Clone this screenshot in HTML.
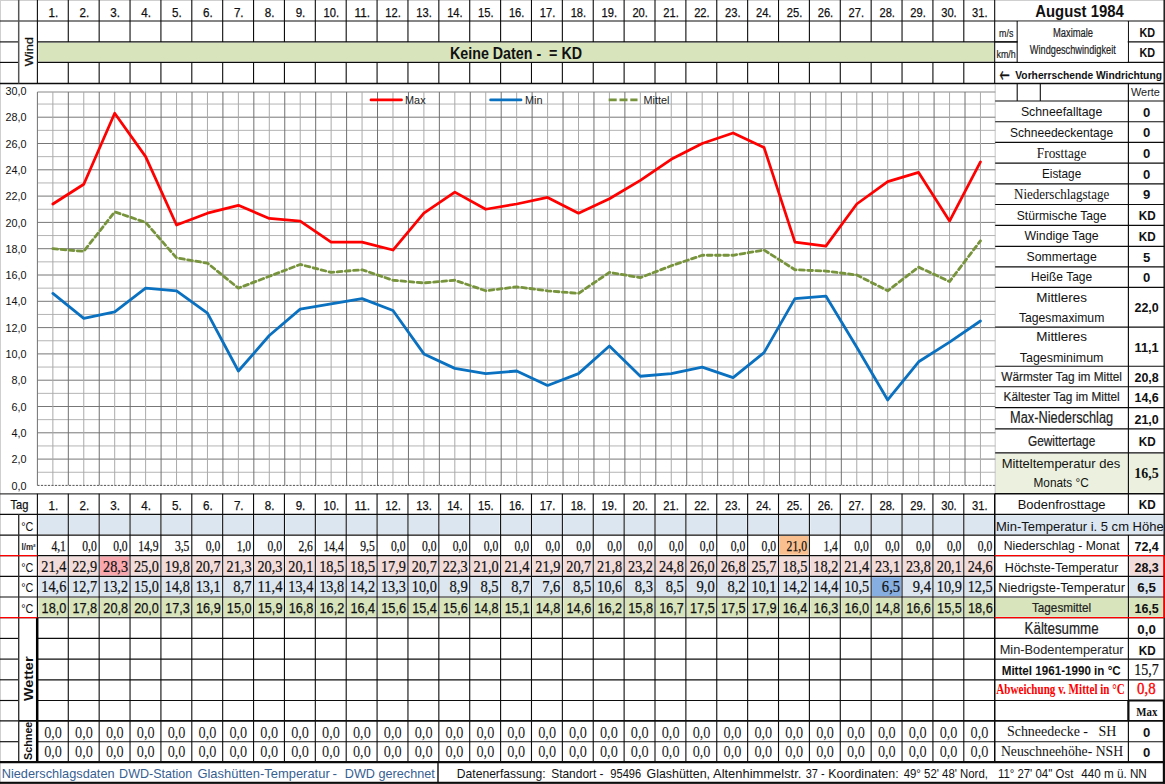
<!DOCTYPE html>
<html lang="de"><head><meta charset="utf-8"><title>August 1984 – Glashütten</title>
<style>
html,body{margin:0;padding:0;background:#fff;}
body{width:1165px;height:784px;overflow:hidden;}
svg{display:block;}
text{white-space:pre;}
</style></head><body>
<svg width="1165" height="784" viewBox="0 0 1165 784">
<rect x="0" y="0" width="1165" height="784" fill="#fff"/>
<rect x="38.20" y="42.70" width="955.88" height="18.90" fill="#d8e4bc"/>
<rect x="38.30" y="515.20" width="29.08" height="19.00" fill="#dce6f1"/>
<rect x="38.30" y="556.50" width="29.08" height="18.90" fill="#f2dcdb"/>
<rect x="38.30" y="577.20" width="29.08" height="18.90" fill="#dce6f1"/>
<rect x="38.30" y="597.90" width="29.08" height="18.90" fill="#d8e4bc"/>
<rect x="69.18" y="515.20" width="29.08" height="19.00" fill="#dce6f1"/>
<rect x="69.18" y="556.50" width="29.08" height="18.90" fill="#f2dcdb"/>
<rect x="69.18" y="577.20" width="29.08" height="18.90" fill="#dce6f1"/>
<rect x="69.18" y="597.90" width="29.08" height="18.90" fill="#d8e4bc"/>
<rect x="100.06" y="515.20" width="29.08" height="19.00" fill="#dce6f1"/>
<rect x="100.06" y="556.50" width="29.08" height="18.90" fill="#f2dcdb"/>
<rect x="100.06" y="577.20" width="29.08" height="18.90" fill="#dce6f1"/>
<rect x="100.06" y="597.90" width="29.08" height="18.90" fill="#d8e4bc"/>
<rect x="130.94" y="515.20" width="29.08" height="19.00" fill="#dce6f1"/>
<rect x="130.94" y="556.50" width="29.08" height="18.90" fill="#f2dcdb"/>
<rect x="130.94" y="577.20" width="29.08" height="18.90" fill="#dce6f1"/>
<rect x="130.94" y="597.90" width="29.08" height="18.90" fill="#d8e4bc"/>
<rect x="161.82" y="515.20" width="29.08" height="19.00" fill="#dce6f1"/>
<rect x="161.82" y="556.50" width="29.08" height="18.90" fill="#f2dcdb"/>
<rect x="161.82" y="577.20" width="29.08" height="18.90" fill="#dce6f1"/>
<rect x="161.82" y="597.90" width="29.08" height="18.90" fill="#d8e4bc"/>
<rect x="192.70" y="515.20" width="29.08" height="19.00" fill="#dce6f1"/>
<rect x="192.70" y="556.50" width="29.08" height="18.90" fill="#f2dcdb"/>
<rect x="192.70" y="577.20" width="29.08" height="18.90" fill="#dce6f1"/>
<rect x="192.70" y="597.90" width="29.08" height="18.90" fill="#d8e4bc"/>
<rect x="223.58" y="515.20" width="29.08" height="19.00" fill="#dce6f1"/>
<rect x="223.58" y="556.50" width="29.08" height="18.90" fill="#f2dcdb"/>
<rect x="223.58" y="577.20" width="29.08" height="18.90" fill="#dce6f1"/>
<rect x="223.58" y="597.90" width="29.08" height="18.90" fill="#d8e4bc"/>
<rect x="254.46" y="515.20" width="29.08" height="19.00" fill="#dce6f1"/>
<rect x="254.46" y="556.50" width="29.08" height="18.90" fill="#f2dcdb"/>
<rect x="254.46" y="577.20" width="29.08" height="18.90" fill="#dce6f1"/>
<rect x="254.46" y="597.90" width="29.08" height="18.90" fill="#d8e4bc"/>
<rect x="285.34" y="515.20" width="29.08" height="19.00" fill="#dce6f1"/>
<rect x="285.34" y="556.50" width="29.08" height="18.90" fill="#f2dcdb"/>
<rect x="285.34" y="577.20" width="29.08" height="18.90" fill="#dce6f1"/>
<rect x="285.34" y="597.90" width="29.08" height="18.90" fill="#d8e4bc"/>
<rect x="316.22" y="515.20" width="29.08" height="19.00" fill="#dce6f1"/>
<rect x="316.22" y="556.50" width="29.08" height="18.90" fill="#f2dcdb"/>
<rect x="316.22" y="577.20" width="29.08" height="18.90" fill="#dce6f1"/>
<rect x="316.22" y="597.90" width="29.08" height="18.90" fill="#d8e4bc"/>
<rect x="347.10" y="515.20" width="29.08" height="19.00" fill="#dce6f1"/>
<rect x="347.10" y="556.50" width="29.08" height="18.90" fill="#f2dcdb"/>
<rect x="347.10" y="577.20" width="29.08" height="18.90" fill="#dce6f1"/>
<rect x="347.10" y="597.90" width="29.08" height="18.90" fill="#d8e4bc"/>
<rect x="377.98" y="515.20" width="29.08" height="19.00" fill="#dce6f1"/>
<rect x="377.98" y="556.50" width="29.08" height="18.90" fill="#f2dcdb"/>
<rect x="377.98" y="577.20" width="29.08" height="18.90" fill="#dce6f1"/>
<rect x="377.98" y="597.90" width="29.08" height="18.90" fill="#d8e4bc"/>
<rect x="408.86" y="515.20" width="29.08" height="19.00" fill="#dce6f1"/>
<rect x="408.86" y="556.50" width="29.08" height="18.90" fill="#f2dcdb"/>
<rect x="408.86" y="577.20" width="29.08" height="18.90" fill="#dce6f1"/>
<rect x="408.86" y="597.90" width="29.08" height="18.90" fill="#d8e4bc"/>
<rect x="439.74" y="515.20" width="29.08" height="19.00" fill="#dce6f1"/>
<rect x="439.74" y="556.50" width="29.08" height="18.90" fill="#f2dcdb"/>
<rect x="439.74" y="577.20" width="29.08" height="18.90" fill="#dce6f1"/>
<rect x="439.74" y="597.90" width="29.08" height="18.90" fill="#d8e4bc"/>
<rect x="470.62" y="515.20" width="29.08" height="19.00" fill="#dce6f1"/>
<rect x="470.62" y="556.50" width="29.08" height="18.90" fill="#f2dcdb"/>
<rect x="470.62" y="577.20" width="29.08" height="18.90" fill="#dce6f1"/>
<rect x="470.62" y="597.90" width="29.08" height="18.90" fill="#d8e4bc"/>
<rect x="501.50" y="515.20" width="29.08" height="19.00" fill="#dce6f1"/>
<rect x="501.50" y="556.50" width="29.08" height="18.90" fill="#f2dcdb"/>
<rect x="501.50" y="577.20" width="29.08" height="18.90" fill="#dce6f1"/>
<rect x="501.50" y="597.90" width="29.08" height="18.90" fill="#d8e4bc"/>
<rect x="532.38" y="515.20" width="29.08" height="19.00" fill="#dce6f1"/>
<rect x="532.38" y="556.50" width="29.08" height="18.90" fill="#f2dcdb"/>
<rect x="532.38" y="577.20" width="29.08" height="18.90" fill="#dce6f1"/>
<rect x="532.38" y="597.90" width="29.08" height="18.90" fill="#d8e4bc"/>
<rect x="563.26" y="515.20" width="29.08" height="19.00" fill="#dce6f1"/>
<rect x="563.26" y="556.50" width="29.08" height="18.90" fill="#f2dcdb"/>
<rect x="563.26" y="577.20" width="29.08" height="18.90" fill="#dce6f1"/>
<rect x="563.26" y="597.90" width="29.08" height="18.90" fill="#d8e4bc"/>
<rect x="594.14" y="515.20" width="29.08" height="19.00" fill="#dce6f1"/>
<rect x="594.14" y="556.50" width="29.08" height="18.90" fill="#f2dcdb"/>
<rect x="594.14" y="577.20" width="29.08" height="18.90" fill="#dce6f1"/>
<rect x="594.14" y="597.90" width="29.08" height="18.90" fill="#d8e4bc"/>
<rect x="625.02" y="515.20" width="29.08" height="19.00" fill="#dce6f1"/>
<rect x="625.02" y="556.50" width="29.08" height="18.90" fill="#f2dcdb"/>
<rect x="625.02" y="577.20" width="29.08" height="18.90" fill="#dce6f1"/>
<rect x="625.02" y="597.90" width="29.08" height="18.90" fill="#d8e4bc"/>
<rect x="655.90" y="515.20" width="29.08" height="19.00" fill="#dce6f1"/>
<rect x="655.90" y="556.50" width="29.08" height="18.90" fill="#f2dcdb"/>
<rect x="655.90" y="577.20" width="29.08" height="18.90" fill="#dce6f1"/>
<rect x="655.90" y="597.90" width="29.08" height="18.90" fill="#d8e4bc"/>
<rect x="686.78" y="515.20" width="29.08" height="19.00" fill="#dce6f1"/>
<rect x="686.78" y="556.50" width="29.08" height="18.90" fill="#f2dcdb"/>
<rect x="686.78" y="577.20" width="29.08" height="18.90" fill="#dce6f1"/>
<rect x="686.78" y="597.90" width="29.08" height="18.90" fill="#d8e4bc"/>
<rect x="717.66" y="515.20" width="29.08" height="19.00" fill="#dce6f1"/>
<rect x="717.66" y="556.50" width="29.08" height="18.90" fill="#f2dcdb"/>
<rect x="717.66" y="577.20" width="29.08" height="18.90" fill="#dce6f1"/>
<rect x="717.66" y="597.90" width="29.08" height="18.90" fill="#d8e4bc"/>
<rect x="748.54" y="515.20" width="29.08" height="19.00" fill="#dce6f1"/>
<rect x="748.54" y="556.50" width="29.08" height="18.90" fill="#f2dcdb"/>
<rect x="748.54" y="577.20" width="29.08" height="18.90" fill="#dce6f1"/>
<rect x="748.54" y="597.90" width="29.08" height="18.90" fill="#d8e4bc"/>
<rect x="779.42" y="515.20" width="29.08" height="19.00" fill="#dce6f1"/>
<rect x="779.42" y="556.50" width="29.08" height="18.90" fill="#f2dcdb"/>
<rect x="779.42" y="577.20" width="29.08" height="18.90" fill="#dce6f1"/>
<rect x="779.42" y="597.90" width="29.08" height="18.90" fill="#d8e4bc"/>
<rect x="810.30" y="515.20" width="29.08" height="19.00" fill="#dce6f1"/>
<rect x="810.30" y="556.50" width="29.08" height="18.90" fill="#f2dcdb"/>
<rect x="810.30" y="577.20" width="29.08" height="18.90" fill="#dce6f1"/>
<rect x="810.30" y="597.90" width="29.08" height="18.90" fill="#d8e4bc"/>
<rect x="841.18" y="515.20" width="29.08" height="19.00" fill="#dce6f1"/>
<rect x="841.18" y="556.50" width="29.08" height="18.90" fill="#f2dcdb"/>
<rect x="841.18" y="577.20" width="29.08" height="18.90" fill="#dce6f1"/>
<rect x="841.18" y="597.90" width="29.08" height="18.90" fill="#d8e4bc"/>
<rect x="872.06" y="515.20" width="29.08" height="19.00" fill="#dce6f1"/>
<rect x="872.06" y="556.50" width="29.08" height="18.90" fill="#f2dcdb"/>
<rect x="872.06" y="577.20" width="29.08" height="18.90" fill="#dce6f1"/>
<rect x="872.06" y="597.90" width="29.08" height="18.90" fill="#d8e4bc"/>
<rect x="902.94" y="515.20" width="29.08" height="19.00" fill="#dce6f1"/>
<rect x="902.94" y="556.50" width="29.08" height="18.90" fill="#f2dcdb"/>
<rect x="902.94" y="577.20" width="29.08" height="18.90" fill="#dce6f1"/>
<rect x="902.94" y="597.90" width="29.08" height="18.90" fill="#d8e4bc"/>
<rect x="933.82" y="515.20" width="29.08" height="19.00" fill="#dce6f1"/>
<rect x="933.82" y="556.50" width="29.08" height="18.90" fill="#f2dcdb"/>
<rect x="933.82" y="577.20" width="29.08" height="18.90" fill="#dce6f1"/>
<rect x="933.82" y="597.90" width="29.08" height="18.90" fill="#d8e4bc"/>
<rect x="964.70" y="515.20" width="29.08" height="19.00" fill="#dce6f1"/>
<rect x="964.70" y="556.50" width="29.08" height="18.90" fill="#f2dcdb"/>
<rect x="964.70" y="577.20" width="29.08" height="18.90" fill="#dce6f1"/>
<rect x="964.70" y="597.90" width="29.08" height="18.90" fill="#d8e4bc"/>
<rect x="100.06" y="556.50" width="29.08" height="18.90" fill="#f9a7ae"/>
<rect x="872.06" y="577.20" width="29.08" height="18.90" fill="#86aee0"/>
<rect x="779.42" y="536.00" width="29.08" height="18.70" fill="#fabf8f"/>
<rect x="995.48" y="453.80" width="132.12" height="39.10" fill="#ebf1de"/>
<rect x="1129.20" y="453.80" width="34.20" height="39.10" fill="#ebf1de"/>
<rect x="995.48" y="515.20" width="167.92" height="19.00" fill="#dce6f1"/>
<rect x="1129.20" y="556.50" width="34.20" height="18.90" fill="#f2dcdb"/>
<rect x="1129.20" y="577.20" width="34.20" height="18.90" fill="#dce6f1"/>
<rect x="995.48" y="597.90" width="132.12" height="18.90" fill="#d8e4bc"/>
<rect x="1129.20" y="597.90" width="34.20" height="18.90" fill="#d8e4bc"/>
<line x1="0.00" y1="0.50" x2="1165.00" y2="0.50" stroke="#cfcfcf" stroke-width="1" />
<line x1="0.50" y1="0.00" x2="0.50" y2="784.00" stroke="#cfcfcf" stroke-width="1" />
<line x1="995.18" y1="84.50" x2="995.18" y2="493.00" stroke="#c4c4c4" stroke-width="1" />
<line x1="37.40" y1="472.25" x2="995.32" y2="472.25" stroke="#b4b4b4" stroke-width="1" />
<line x1="37.40" y1="459.10" x2="995.32" y2="459.10" stroke="#777" stroke-width="1" />
<line x1="37.40" y1="445.95" x2="995.32" y2="445.95" stroke="#b4b4b4" stroke-width="1" />
<line x1="37.40" y1="432.80" x2="995.32" y2="432.80" stroke="#777" stroke-width="1" />
<line x1="37.40" y1="419.65" x2="995.32" y2="419.65" stroke="#b4b4b4" stroke-width="1" />
<line x1="37.40" y1="406.50" x2="995.32" y2="406.50" stroke="#777" stroke-width="1" />
<line x1="37.40" y1="393.35" x2="995.32" y2="393.35" stroke="#b4b4b4" stroke-width="1" />
<line x1="37.40" y1="380.20" x2="995.32" y2="380.20" stroke="#777" stroke-width="1" />
<line x1="37.40" y1="367.05" x2="995.32" y2="367.05" stroke="#b4b4b4" stroke-width="1" />
<line x1="37.40" y1="353.90" x2="995.32" y2="353.90" stroke="#777" stroke-width="1" />
<line x1="37.40" y1="340.75" x2="995.32" y2="340.75" stroke="#b4b4b4" stroke-width="1" />
<line x1="37.40" y1="327.60" x2="995.32" y2="327.60" stroke="#777" stroke-width="1" />
<line x1="37.40" y1="314.45" x2="995.32" y2="314.45" stroke="#b4b4b4" stroke-width="1" />
<line x1="37.40" y1="301.30" x2="995.32" y2="301.30" stroke="#777" stroke-width="1" />
<line x1="37.40" y1="288.15" x2="995.32" y2="288.15" stroke="#b4b4b4" stroke-width="1" />
<line x1="37.40" y1="275.00" x2="995.32" y2="275.00" stroke="#777" stroke-width="1" />
<line x1="37.40" y1="261.85" x2="995.32" y2="261.85" stroke="#b4b4b4" stroke-width="1" />
<line x1="37.40" y1="248.70" x2="995.32" y2="248.70" stroke="#777" stroke-width="1" />
<line x1="37.40" y1="235.55" x2="995.32" y2="235.55" stroke="#b4b4b4" stroke-width="1" />
<line x1="37.40" y1="222.40" x2="995.32" y2="222.40" stroke="#777" stroke-width="1" />
<line x1="37.40" y1="209.25" x2="995.32" y2="209.25" stroke="#b4b4b4" stroke-width="1" />
<line x1="37.40" y1="196.10" x2="995.32" y2="196.10" stroke="#777" stroke-width="1" />
<line x1="37.40" y1="182.95" x2="995.32" y2="182.95" stroke="#b4b4b4" stroke-width="1" />
<line x1="37.40" y1="169.80" x2="995.32" y2="169.80" stroke="#777" stroke-width="1" />
<line x1="37.40" y1="156.65" x2="995.32" y2="156.65" stroke="#b4b4b4" stroke-width="1" />
<line x1="37.40" y1="143.50" x2="995.32" y2="143.50" stroke="#777" stroke-width="1" />
<line x1="37.40" y1="130.35" x2="995.32" y2="130.35" stroke="#b4b4b4" stroke-width="1" />
<line x1="37.40" y1="117.20" x2="995.32" y2="117.20" stroke="#777" stroke-width="1" />
<line x1="37.40" y1="104.05" x2="995.32" y2="104.05" stroke="#b4b4b4" stroke-width="1" />
<line x1="37.40" y1="92.00" x2="995.32" y2="92.00" stroke="#888" stroke-width="1" />
<line x1="52.86" y1="92.00" x2="52.86" y2="485.40" stroke="#aaa" stroke-width="1" />
<line x1="37.40" y1="92.00" x2="37.40" y2="485.40" stroke="#707070" stroke-width="1" />
<line x1="83.78" y1="92.00" x2="83.78" y2="485.40" stroke="#aaa" stroke-width="1" />
<line x1="68.32" y1="92.00" x2="68.32" y2="485.40" stroke="#707070" stroke-width="1" />
<line x1="114.70" y1="92.00" x2="114.70" y2="485.40" stroke="#aaa" stroke-width="1" />
<line x1="99.24" y1="92.00" x2="99.24" y2="485.40" stroke="#707070" stroke-width="1" />
<line x1="145.62" y1="92.00" x2="145.62" y2="485.40" stroke="#aaa" stroke-width="1" />
<line x1="130.16" y1="92.00" x2="130.16" y2="485.40" stroke="#707070" stroke-width="1" />
<line x1="176.54" y1="92.00" x2="176.54" y2="485.40" stroke="#aaa" stroke-width="1" />
<line x1="161.08" y1="92.00" x2="161.08" y2="485.40" stroke="#707070" stroke-width="1" />
<line x1="207.46" y1="92.00" x2="207.46" y2="485.40" stroke="#aaa" stroke-width="1" />
<line x1="192.00" y1="92.00" x2="192.00" y2="485.40" stroke="#707070" stroke-width="1" />
<line x1="238.38" y1="92.00" x2="238.38" y2="485.40" stroke="#aaa" stroke-width="1" />
<line x1="222.92" y1="92.00" x2="222.92" y2="485.40" stroke="#707070" stroke-width="1" />
<line x1="269.30" y1="92.00" x2="269.30" y2="485.40" stroke="#aaa" stroke-width="1" />
<line x1="253.84" y1="92.00" x2="253.84" y2="485.40" stroke="#707070" stroke-width="1" />
<line x1="300.22" y1="92.00" x2="300.22" y2="485.40" stroke="#aaa" stroke-width="1" />
<line x1="284.76" y1="92.00" x2="284.76" y2="485.40" stroke="#707070" stroke-width="1" />
<line x1="331.14" y1="92.00" x2="331.14" y2="485.40" stroke="#aaa" stroke-width="1" />
<line x1="315.68" y1="92.00" x2="315.68" y2="485.40" stroke="#707070" stroke-width="1" />
<line x1="362.06" y1="92.00" x2="362.06" y2="485.40" stroke="#aaa" stroke-width="1" />
<line x1="346.60" y1="92.00" x2="346.60" y2="485.40" stroke="#707070" stroke-width="1" />
<line x1="392.98" y1="92.00" x2="392.98" y2="485.40" stroke="#aaa" stroke-width="1" />
<line x1="377.52" y1="92.00" x2="377.52" y2="485.40" stroke="#707070" stroke-width="1" />
<line x1="423.90" y1="92.00" x2="423.90" y2="485.40" stroke="#aaa" stroke-width="1" />
<line x1="408.44" y1="92.00" x2="408.44" y2="485.40" stroke="#707070" stroke-width="1" />
<line x1="454.82" y1="92.00" x2="454.82" y2="485.40" stroke="#aaa" stroke-width="1" />
<line x1="439.36" y1="92.00" x2="439.36" y2="485.40" stroke="#707070" stroke-width="1" />
<line x1="485.74" y1="92.00" x2="485.74" y2="485.40" stroke="#aaa" stroke-width="1" />
<line x1="470.28" y1="92.00" x2="470.28" y2="485.40" stroke="#707070" stroke-width="1" />
<line x1="516.66" y1="92.00" x2="516.66" y2="485.40" stroke="#aaa" stroke-width="1" />
<line x1="501.20" y1="92.00" x2="501.20" y2="485.40" stroke="#707070" stroke-width="1" />
<line x1="547.58" y1="92.00" x2="547.58" y2="485.40" stroke="#aaa" stroke-width="1" />
<line x1="532.12" y1="92.00" x2="532.12" y2="485.40" stroke="#707070" stroke-width="1" />
<line x1="578.50" y1="92.00" x2="578.50" y2="485.40" stroke="#aaa" stroke-width="1" />
<line x1="563.04" y1="92.00" x2="563.04" y2="485.40" stroke="#707070" stroke-width="1" />
<line x1="609.42" y1="92.00" x2="609.42" y2="485.40" stroke="#aaa" stroke-width="1" />
<line x1="593.96" y1="92.00" x2="593.96" y2="485.40" stroke="#707070" stroke-width="1" />
<line x1="640.34" y1="92.00" x2="640.34" y2="485.40" stroke="#aaa" stroke-width="1" />
<line x1="624.88" y1="92.00" x2="624.88" y2="485.40" stroke="#707070" stroke-width="1" />
<line x1="671.26" y1="92.00" x2="671.26" y2="485.40" stroke="#aaa" stroke-width="1" />
<line x1="655.80" y1="92.00" x2="655.80" y2="485.40" stroke="#707070" stroke-width="1" />
<line x1="702.18" y1="92.00" x2="702.18" y2="485.40" stroke="#aaa" stroke-width="1" />
<line x1="686.72" y1="92.00" x2="686.72" y2="485.40" stroke="#707070" stroke-width="1" />
<line x1="733.10" y1="92.00" x2="733.10" y2="485.40" stroke="#aaa" stroke-width="1" />
<line x1="717.64" y1="92.00" x2="717.64" y2="485.40" stroke="#707070" stroke-width="1" />
<line x1="764.02" y1="92.00" x2="764.02" y2="485.40" stroke="#aaa" stroke-width="1" />
<line x1="748.56" y1="92.00" x2="748.56" y2="485.40" stroke="#707070" stroke-width="1" />
<line x1="794.94" y1="92.00" x2="794.94" y2="485.40" stroke="#aaa" stroke-width="1" />
<line x1="779.48" y1="92.00" x2="779.48" y2="485.40" stroke="#707070" stroke-width="1" />
<line x1="825.86" y1="92.00" x2="825.86" y2="485.40" stroke="#aaa" stroke-width="1" />
<line x1="810.40" y1="92.00" x2="810.40" y2="485.40" stroke="#707070" stroke-width="1" />
<line x1="856.78" y1="92.00" x2="856.78" y2="485.40" stroke="#aaa" stroke-width="1" />
<line x1="841.32" y1="92.00" x2="841.32" y2="485.40" stroke="#707070" stroke-width="1" />
<line x1="887.70" y1="92.00" x2="887.70" y2="485.40" stroke="#aaa" stroke-width="1" />
<line x1="872.24" y1="92.00" x2="872.24" y2="485.40" stroke="#707070" stroke-width="1" />
<line x1="918.62" y1="92.00" x2="918.62" y2="485.40" stroke="#aaa" stroke-width="1" />
<line x1="903.16" y1="92.00" x2="903.16" y2="485.40" stroke="#707070" stroke-width="1" />
<line x1="949.54" y1="92.00" x2="949.54" y2="485.40" stroke="#aaa" stroke-width="1" />
<line x1="934.08" y1="92.00" x2="934.08" y2="485.40" stroke="#707070" stroke-width="1" />
<line x1="980.46" y1="92.00" x2="980.46" y2="485.40" stroke="#aaa" stroke-width="1" />
<line x1="965.00" y1="92.00" x2="965.00" y2="485.40" stroke="#707070" stroke-width="1" />
<line x1="37.40" y1="485.40" x2="995.32" y2="485.40" stroke="#555" stroke-width="1" stroke-dasharray="2.2 1.3"/>
<text transform="translate(26.50,489.50)" font-family="Liberation Sans, Arial, sans-serif" font-size="10.8" text-anchor="end" fill="#111" >0,0</text>
<text transform="translate(26.50,463.20)" font-family="Liberation Sans, Arial, sans-serif" font-size="10.8" text-anchor="end" fill="#111" >2,0</text>
<text transform="translate(26.50,436.90)" font-family="Liberation Sans, Arial, sans-serif" font-size="10.8" text-anchor="end" fill="#111" >4,0</text>
<text transform="translate(26.50,410.60)" font-family="Liberation Sans, Arial, sans-serif" font-size="10.8" text-anchor="end" fill="#111" >6,0</text>
<text transform="translate(26.50,384.30)" font-family="Liberation Sans, Arial, sans-serif" font-size="10.8" text-anchor="end" fill="#111" >8,0</text>
<text transform="translate(26.50,358.00)" font-family="Liberation Sans, Arial, sans-serif" font-size="10.8" text-anchor="end" fill="#111" >10,0</text>
<text transform="translate(26.50,331.70)" font-family="Liberation Sans, Arial, sans-serif" font-size="10.8" text-anchor="end" fill="#111" >12,0</text>
<text transform="translate(26.50,305.40)" font-family="Liberation Sans, Arial, sans-serif" font-size="10.8" text-anchor="end" fill="#111" >14,0</text>
<text transform="translate(26.50,279.10)" font-family="Liberation Sans, Arial, sans-serif" font-size="10.8" text-anchor="end" fill="#111" >16,0</text>
<text transform="translate(26.50,252.80)" font-family="Liberation Sans, Arial, sans-serif" font-size="10.8" text-anchor="end" fill="#111" >18,0</text>
<text transform="translate(26.50,226.50)" font-family="Liberation Sans, Arial, sans-serif" font-size="10.8" text-anchor="end" fill="#111" >20,0</text>
<text transform="translate(26.50,200.20)" font-family="Liberation Sans, Arial, sans-serif" font-size="10.8" text-anchor="end" fill="#111" >22,0</text>
<text transform="translate(26.50,173.90)" font-family="Liberation Sans, Arial, sans-serif" font-size="10.8" text-anchor="end" fill="#111" >24,0</text>
<text transform="translate(26.50,147.60)" font-family="Liberation Sans, Arial, sans-serif" font-size="10.8" text-anchor="end" fill="#111" >26,0</text>
<text transform="translate(26.50,121.30)" font-family="Liberation Sans, Arial, sans-serif" font-size="10.8" text-anchor="end" fill="#111" >28,0</text>
<text transform="translate(26.50,95.00)" font-family="Liberation Sans, Arial, sans-serif" font-size="10.8" text-anchor="end" fill="#111" >30,0</text>
<polyline points="52.86,248.70 83.78,251.33 114.70,211.88 145.62,222.40 176.54,257.90 207.46,263.16 238.38,288.15 269.30,276.31 300.22,264.48 331.14,272.37 362.06,269.74 392.98,280.26 423.90,282.89 454.82,280.26 485.74,290.78 516.66,286.83 547.58,290.78 578.50,293.41 609.42,272.37 640.34,277.63 671.26,265.79 702.18,255.27 733.10,255.27 764.02,250.01 794.94,269.74 825.86,271.05 856.78,275.00 887.70,290.78 918.62,267.11 949.54,281.57 980.46,240.81" fill="none" stroke="#77933c" stroke-width="2.8" stroke-linejoin="round" stroke-linecap="round" stroke-dasharray="4.8 3.4" stroke-linecap="butt"/>
<polyline points="52.86,293.41 83.78,318.39 114.70,311.82 145.62,288.15 176.54,290.78 207.46,313.13 238.38,371.00 269.30,335.49 300.22,309.19 331.14,303.93 362.06,298.67 392.98,310.50 423.90,353.90 454.82,368.36 485.74,373.62 516.66,371.00 547.58,385.46 578.50,373.62 609.42,346.01 640.34,376.25 671.26,373.62 702.18,367.05 733.10,377.57 764.02,352.58 794.94,298.67 825.86,296.04 856.78,347.32 887.70,399.92 918.62,361.79 949.54,342.06 980.46,321.02" fill="none" stroke="#0a70c0" stroke-width="2.8" stroke-linejoin="round" stroke-linecap="round" />
<polyline points="52.86,203.99 83.78,184.26 114.70,113.25 145.62,156.65 176.54,225.03 207.46,213.19 238.38,205.30 269.30,218.45 300.22,221.08 331.14,242.12 362.06,242.12 392.98,250.01 423.90,213.19 454.82,192.15 485.74,209.25 516.66,203.99 547.58,197.41 578.50,213.19 609.42,198.73 640.34,180.32 671.26,159.28 702.18,143.50 733.10,132.98 764.02,147.44 794.94,242.12 825.86,246.07 856.78,203.99 887.70,181.63 918.62,172.43 949.54,221.08 980.46,161.91" fill="none" stroke="#fe0000" stroke-width="2.75" stroke-linejoin="round" stroke-linecap="round" />
<line x1="371.00" y1="99.90" x2="401.50" y2="99.90" stroke="#fe0000" stroke-width="2.8" stroke-linecap="round"/>
<text transform="translate(405.00,103.90)" font-family="Liberation Sans, Arial, sans-serif" font-size="10.9" text-anchor="start" fill="#222" >Max</text>
<line x1="490.60" y1="99.90" x2="521.00" y2="99.90" stroke="#0a70c0" stroke-width="2.8" stroke-linecap="round"/>
<text transform="translate(525.00,103.90)" font-family="Liberation Sans, Arial, sans-serif" font-size="10.9" text-anchor="start" fill="#222" >Min</text>
<line x1="608.70" y1="99.90" x2="637.50" y2="99.90" stroke="#77933c" stroke-width="2.7" stroke-dasharray="8 2.8"/>
<text transform="translate(643.50,103.90)" font-family="Liberation Sans, Arial, sans-serif" font-size="10.9" text-anchor="start" fill="#222" >Mittel</text>
<line x1="0.00" y1="21.00" x2="1164.20" y2="21.00" stroke="#0c0c0c" stroke-width="1.15" />
<line x1="0.00" y1="41.90" x2="18.70" y2="41.90" stroke="#0c0c0c" stroke-width="1.15" />
<line x1="37.40" y1="41.90" x2="1164.20" y2="41.90" stroke="#0c0c0c" stroke-width="1.15" />
<line x1="0.00" y1="62.40" x2="18.70" y2="62.40" stroke="#0c0c0c" stroke-width="1.15" />
<line x1="37.40" y1="62.40" x2="1164.20" y2="62.40" stroke="#0c0c0c" stroke-width="1.15" />
<line x1="0.00" y1="83.50" x2="1164.20" y2="83.50" stroke="#0c0c0c" stroke-width="1.6" />
<line x1="18.70" y1="0.00" x2="18.70" y2="83.50" stroke="#555" stroke-width="1.5" />
<line x1="37.40" y1="0.00" x2="37.40" y2="41.90" stroke="#0c0c0c" stroke-width="1.1" />
<line x1="37.40" y1="62.40" x2="37.40" y2="83.50" stroke="#0c0c0c" stroke-width="1.1" />
<line x1="68.28" y1="0.00" x2="68.28" y2="41.90" stroke="#0c0c0c" stroke-width="1.1" />
<line x1="68.28" y1="62.40" x2="68.28" y2="83.50" stroke="#0c0c0c" stroke-width="1.1" />
<line x1="99.16" y1="0.00" x2="99.16" y2="41.90" stroke="#0c0c0c" stroke-width="1.1" />
<line x1="99.16" y1="62.40" x2="99.16" y2="83.50" stroke="#0c0c0c" stroke-width="1.1" />
<line x1="130.04" y1="0.00" x2="130.04" y2="41.90" stroke="#0c0c0c" stroke-width="1.1" />
<line x1="130.04" y1="62.40" x2="130.04" y2="83.50" stroke="#0c0c0c" stroke-width="1.1" />
<line x1="160.92" y1="0.00" x2="160.92" y2="41.90" stroke="#0c0c0c" stroke-width="1.1" />
<line x1="160.92" y1="62.40" x2="160.92" y2="83.50" stroke="#0c0c0c" stroke-width="1.1" />
<line x1="191.80" y1="0.00" x2="191.80" y2="41.90" stroke="#0c0c0c" stroke-width="1.1" />
<line x1="191.80" y1="62.40" x2="191.80" y2="83.50" stroke="#0c0c0c" stroke-width="1.1" />
<line x1="222.68" y1="0.00" x2="222.68" y2="41.90" stroke="#0c0c0c" stroke-width="1.1" />
<line x1="222.68" y1="62.40" x2="222.68" y2="83.50" stroke="#0c0c0c" stroke-width="1.1" />
<line x1="253.56" y1="0.00" x2="253.56" y2="41.90" stroke="#0c0c0c" stroke-width="1.1" />
<line x1="253.56" y1="62.40" x2="253.56" y2="83.50" stroke="#0c0c0c" stroke-width="1.1" />
<line x1="284.44" y1="0.00" x2="284.44" y2="41.90" stroke="#0c0c0c" stroke-width="1.1" />
<line x1="284.44" y1="62.40" x2="284.44" y2="83.50" stroke="#0c0c0c" stroke-width="1.1" />
<line x1="315.32" y1="0.00" x2="315.32" y2="41.90" stroke="#0c0c0c" stroke-width="1.1" />
<line x1="315.32" y1="62.40" x2="315.32" y2="83.50" stroke="#0c0c0c" stroke-width="1.1" />
<line x1="346.20" y1="0.00" x2="346.20" y2="41.90" stroke="#0c0c0c" stroke-width="1.1" />
<line x1="346.20" y1="62.40" x2="346.20" y2="83.50" stroke="#0c0c0c" stroke-width="1.1" />
<line x1="377.08" y1="0.00" x2="377.08" y2="41.90" stroke="#0c0c0c" stroke-width="1.1" />
<line x1="377.08" y1="62.40" x2="377.08" y2="83.50" stroke="#0c0c0c" stroke-width="1.1" />
<line x1="407.96" y1="0.00" x2="407.96" y2="41.90" stroke="#0c0c0c" stroke-width="1.1" />
<line x1="407.96" y1="62.40" x2="407.96" y2="83.50" stroke="#0c0c0c" stroke-width="1.1" />
<line x1="438.84" y1="0.00" x2="438.84" y2="41.90" stroke="#0c0c0c" stroke-width="1.1" />
<line x1="438.84" y1="62.40" x2="438.84" y2="83.50" stroke="#0c0c0c" stroke-width="1.1" />
<line x1="469.72" y1="0.00" x2="469.72" y2="41.90" stroke="#0c0c0c" stroke-width="1.1" />
<line x1="469.72" y1="62.40" x2="469.72" y2="83.50" stroke="#0c0c0c" stroke-width="1.1" />
<line x1="500.60" y1="0.00" x2="500.60" y2="41.90" stroke="#0c0c0c" stroke-width="1.1" />
<line x1="500.60" y1="62.40" x2="500.60" y2="83.50" stroke="#0c0c0c" stroke-width="1.1" />
<line x1="531.48" y1="0.00" x2="531.48" y2="41.90" stroke="#0c0c0c" stroke-width="1.1" />
<line x1="531.48" y1="62.40" x2="531.48" y2="83.50" stroke="#0c0c0c" stroke-width="1.1" />
<line x1="562.36" y1="0.00" x2="562.36" y2="41.90" stroke="#0c0c0c" stroke-width="1.1" />
<line x1="562.36" y1="62.40" x2="562.36" y2="83.50" stroke="#0c0c0c" stroke-width="1.1" />
<line x1="593.24" y1="0.00" x2="593.24" y2="41.90" stroke="#0c0c0c" stroke-width="1.1" />
<line x1="593.24" y1="62.40" x2="593.24" y2="83.50" stroke="#0c0c0c" stroke-width="1.1" />
<line x1="624.12" y1="0.00" x2="624.12" y2="41.90" stroke="#0c0c0c" stroke-width="1.1" />
<line x1="624.12" y1="62.40" x2="624.12" y2="83.50" stroke="#0c0c0c" stroke-width="1.1" />
<line x1="655.00" y1="0.00" x2="655.00" y2="41.90" stroke="#0c0c0c" stroke-width="1.1" />
<line x1="655.00" y1="62.40" x2="655.00" y2="83.50" stroke="#0c0c0c" stroke-width="1.1" />
<line x1="685.88" y1="0.00" x2="685.88" y2="41.90" stroke="#0c0c0c" stroke-width="1.1" />
<line x1="685.88" y1="62.40" x2="685.88" y2="83.50" stroke="#0c0c0c" stroke-width="1.1" />
<line x1="716.76" y1="0.00" x2="716.76" y2="41.90" stroke="#0c0c0c" stroke-width="1.1" />
<line x1="716.76" y1="62.40" x2="716.76" y2="83.50" stroke="#0c0c0c" stroke-width="1.1" />
<line x1="747.64" y1="0.00" x2="747.64" y2="41.90" stroke="#0c0c0c" stroke-width="1.1" />
<line x1="747.64" y1="62.40" x2="747.64" y2="83.50" stroke="#0c0c0c" stroke-width="1.1" />
<line x1="778.52" y1="0.00" x2="778.52" y2="41.90" stroke="#0c0c0c" stroke-width="1.1" />
<line x1="778.52" y1="62.40" x2="778.52" y2="83.50" stroke="#0c0c0c" stroke-width="1.1" />
<line x1="809.40" y1="0.00" x2="809.40" y2="41.90" stroke="#0c0c0c" stroke-width="1.1" />
<line x1="809.40" y1="62.40" x2="809.40" y2="83.50" stroke="#0c0c0c" stroke-width="1.1" />
<line x1="840.28" y1="0.00" x2="840.28" y2="41.90" stroke="#0c0c0c" stroke-width="1.1" />
<line x1="840.28" y1="62.40" x2="840.28" y2="83.50" stroke="#0c0c0c" stroke-width="1.1" />
<line x1="871.16" y1="0.00" x2="871.16" y2="41.90" stroke="#0c0c0c" stroke-width="1.1" />
<line x1="871.16" y1="62.40" x2="871.16" y2="83.50" stroke="#0c0c0c" stroke-width="1.1" />
<line x1="902.04" y1="0.00" x2="902.04" y2="41.90" stroke="#0c0c0c" stroke-width="1.1" />
<line x1="902.04" y1="62.40" x2="902.04" y2="83.50" stroke="#0c0c0c" stroke-width="1.1" />
<line x1="932.92" y1="0.00" x2="932.92" y2="41.90" stroke="#0c0c0c" stroke-width="1.1" />
<line x1="932.92" y1="62.40" x2="932.92" y2="83.50" stroke="#0c0c0c" stroke-width="1.1" />
<line x1="963.80" y1="0.00" x2="963.80" y2="41.90" stroke="#0c0c0c" stroke-width="1.1" />
<line x1="963.80" y1="62.40" x2="963.80" y2="83.50" stroke="#0c0c0c" stroke-width="1.1" />
<line x1="994.68" y1="0.00" x2="994.68" y2="41.90" stroke="#0c0c0c" stroke-width="1.1" />
<line x1="994.68" y1="62.40" x2="994.68" y2="83.50" stroke="#0c0c0c" stroke-width="1.1" />
<line x1="37.40" y1="41.90" x2="37.40" y2="62.40" stroke="#0c0c0c" stroke-width="1.1" />
<line x1="994.68" y1="41.90" x2="994.68" y2="62.40" stroke="#0c0c0c" stroke-width="1.1" />
<line x1="1164.20" y1="0.00" x2="1164.20" y2="784.00" stroke="#0c0c0c" stroke-width="1.4" />
<line x1="1017.20" y1="21.00" x2="1017.20" y2="62.40" stroke="#0c0c0c" stroke-width="1.1" />
<line x1="1128.40" y1="21.00" x2="1128.40" y2="62.40" stroke="#0c0c0c" stroke-width="1.1" />
<line x1="994.68" y1="41.90" x2="1017.20" y2="41.90" stroke="#0c0c0c" stroke-width="1.1" />
<rect x="1017.90" y="21.80" width="109.80" height="39.80" fill="#fff"/>
<line x1="995.18" y1="101.00" x2="1164.20" y2="101.00" stroke="#0c0c0c" stroke-width="1.15" />
<line x1="995.18" y1="121.70" x2="1164.20" y2="121.70" stroke="#0c0c0c" stroke-width="1.15" />
<line x1="995.18" y1="142.40" x2="1164.20" y2="142.40" stroke="#0c0c0c" stroke-width="1.15" />
<line x1="995.18" y1="163.10" x2="1164.20" y2="163.10" stroke="#0c0c0c" stroke-width="1.15" />
<line x1="995.18" y1="183.80" x2="1164.20" y2="183.80" stroke="#0c0c0c" stroke-width="1.15" />
<line x1="995.18" y1="204.50" x2="1164.20" y2="204.50" stroke="#0c0c0c" stroke-width="1.15" />
<line x1="995.18" y1="225.40" x2="1164.20" y2="225.40" stroke="#0c0c0c" stroke-width="1.15" />
<line x1="995.18" y1="246.30" x2="1164.20" y2="246.30" stroke="#0c0c0c" stroke-width="1.15" />
<line x1="995.18" y1="266.80" x2="1164.20" y2="266.80" stroke="#0c0c0c" stroke-width="1.15" />
<line x1="995.18" y1="287.40" x2="1164.20" y2="287.40" stroke="#0c0c0c" stroke-width="1.15" />
<line x1="995.18" y1="327.10" x2="1164.20" y2="327.10" stroke="#0c0c0c" stroke-width="1.15" />
<line x1="995.18" y1="366.20" x2="1164.20" y2="366.20" stroke="#0c0c0c" stroke-width="1.15" />
<line x1="995.18" y1="386.70" x2="1164.20" y2="386.70" stroke="#0c0c0c" stroke-width="1.15" />
<line x1="995.18" y1="407.60" x2="1164.20" y2="407.60" stroke="#0c0c0c" stroke-width="1.15" />
<line x1="995.18" y1="428.80" x2="1164.20" y2="428.80" stroke="#0c0c0c" stroke-width="1.15" />
<line x1="995.18" y1="452.90" x2="1164.20" y2="452.90" stroke="#0c0c0c" stroke-width="1.15" />
<line x1="1128.40" y1="83.50" x2="1128.40" y2="514.30" stroke="#0c0c0c" stroke-width="1.15" />
<line x1="1128.40" y1="535.10" x2="1128.40" y2="762.10" stroke="#0c0c0c" stroke-width="1.15" />
<line x1="1128.40" y1="700.50" x2="1128.40" y2="720.80" stroke="#0c0c0c" stroke-width="2.2" />
<line x1="1128.40" y1="700.50" x2="1164.20" y2="700.50" stroke="#0c0c0c" stroke-width="2.2" />
<line x1="1163.80" y1="700.50" x2="1163.80" y2="782.80" stroke="#0c0c0c" stroke-width="2.0" />
<line x1="1017.20" y1="83.50" x2="1017.20" y2="101.00" stroke="#0c0c0c" stroke-width="1.1" />
<line x1="1040.30" y1="83.50" x2="1040.30" y2="101.00" stroke="#0c0c0c" stroke-width="1.1" />
<line x1="0.00" y1="493.80" x2="994.68" y2="493.80" stroke="#3a3a3a" stroke-width="1.15" />
<line x1="994.68" y1="493.80" x2="1164.20" y2="493.80" stroke="#0c0c0c" stroke-width="1.5" />
<line x1="0.00" y1="514.30" x2="1164.20" y2="514.30" stroke="#0c0c0c" stroke-width="1.15" />
<line x1="0.00" y1="535.10" x2="1164.20" y2="535.10" stroke="#0c0c0c" stroke-width="1.15" />
<line x1="0.00" y1="555.60" x2="1164.20" y2="555.60" stroke="#0c0c0c" stroke-width="1.15" />
<line x1="0.00" y1="576.30" x2="1164.20" y2="576.30" stroke="#0c0c0c" stroke-width="1.15" />
<line x1="0.00" y1="597.00" x2="1164.20" y2="597.00" stroke="#0c0c0c" stroke-width="1.15" />
<line x1="0.00" y1="617.70" x2="1164.20" y2="617.70" stroke="#0c0c0c" stroke-width="1.15" />
<line x1="0.00" y1="638.40" x2="18.70" y2="638.40" stroke="#0c0c0c" stroke-width="1.15" />
<line x1="37.40" y1="638.40" x2="1164.20" y2="638.40" stroke="#0c0c0c" stroke-width="1.15" />
<line x1="0.00" y1="659.10" x2="18.70" y2="659.10" stroke="#0c0c0c" stroke-width="1.15" />
<line x1="37.40" y1="659.10" x2="1164.20" y2="659.10" stroke="#0c0c0c" stroke-width="1.15" />
<line x1="0.00" y1="679.80" x2="18.70" y2="679.80" stroke="#0c0c0c" stroke-width="1.15" />
<line x1="37.40" y1="679.80" x2="1164.20" y2="679.80" stroke="#0c0c0c" stroke-width="1.15" />
<line x1="0.00" y1="700.50" x2="18.70" y2="700.50" stroke="#0c0c0c" stroke-width="1.15" />
<line x1="37.40" y1="700.50" x2="1164.20" y2="700.50" stroke="#0c0c0c" stroke-width="1.15" />
<line x1="0.00" y1="720.80" x2="1164.20" y2="720.80" stroke="#0c0c0c" stroke-width="1.15" />
<line x1="0.00" y1="741.70" x2="18.70" y2="741.70" stroke="#0c0c0c" stroke-width="1.15" />
<line x1="37.40" y1="741.70" x2="1164.20" y2="741.70" stroke="#0c0c0c" stroke-width="1.15" />
<line x1="0.00" y1="762.10" x2="1164.20" y2="762.10" stroke="#0c0c0c" stroke-width="1.15" />
<line x1="0.00" y1="782.80" x2="1164.20" y2="782.80" stroke="#0c0c0c" stroke-width="1.15" />
<line x1="37.40" y1="493.80" x2="37.40" y2="762.10" stroke="#0c0c0c" stroke-width="1.1" />
<line x1="68.28" y1="493.80" x2="68.28" y2="762.10" stroke="#0c0c0c" stroke-width="1.1" />
<line x1="99.16" y1="493.80" x2="99.16" y2="762.10" stroke="#0c0c0c" stroke-width="1.1" />
<line x1="130.04" y1="493.80" x2="130.04" y2="762.10" stroke="#0c0c0c" stroke-width="1.1" />
<line x1="160.92" y1="493.80" x2="160.92" y2="762.10" stroke="#0c0c0c" stroke-width="1.1" />
<line x1="191.80" y1="493.80" x2="191.80" y2="762.10" stroke="#0c0c0c" stroke-width="1.1" />
<line x1="222.68" y1="493.80" x2="222.68" y2="762.10" stroke="#0c0c0c" stroke-width="1.1" />
<line x1="253.56" y1="493.80" x2="253.56" y2="762.10" stroke="#0c0c0c" stroke-width="1.1" />
<line x1="284.44" y1="493.80" x2="284.44" y2="762.10" stroke="#0c0c0c" stroke-width="1.1" />
<line x1="315.32" y1="493.80" x2="315.32" y2="762.10" stroke="#0c0c0c" stroke-width="1.1" />
<line x1="346.20" y1="493.80" x2="346.20" y2="762.10" stroke="#0c0c0c" stroke-width="1.1" />
<line x1="377.08" y1="493.80" x2="377.08" y2="762.10" stroke="#0c0c0c" stroke-width="1.1" />
<line x1="407.96" y1="493.80" x2="407.96" y2="762.10" stroke="#0c0c0c" stroke-width="1.1" />
<line x1="438.84" y1="493.80" x2="438.84" y2="762.10" stroke="#0c0c0c" stroke-width="1.1" />
<line x1="469.72" y1="493.80" x2="469.72" y2="762.10" stroke="#0c0c0c" stroke-width="1.1" />
<line x1="500.60" y1="493.80" x2="500.60" y2="762.10" stroke="#0c0c0c" stroke-width="1.1" />
<line x1="531.48" y1="493.80" x2="531.48" y2="762.10" stroke="#0c0c0c" stroke-width="1.1" />
<line x1="562.36" y1="493.80" x2="562.36" y2="762.10" stroke="#0c0c0c" stroke-width="1.1" />
<line x1="593.24" y1="493.80" x2="593.24" y2="762.10" stroke="#0c0c0c" stroke-width="1.1" />
<line x1="624.12" y1="493.80" x2="624.12" y2="762.10" stroke="#0c0c0c" stroke-width="1.1" />
<line x1="655.00" y1="493.80" x2="655.00" y2="762.10" stroke="#0c0c0c" stroke-width="1.1" />
<line x1="685.88" y1="493.80" x2="685.88" y2="762.10" stroke="#0c0c0c" stroke-width="1.1" />
<line x1="716.76" y1="493.80" x2="716.76" y2="762.10" stroke="#0c0c0c" stroke-width="1.1" />
<line x1="747.64" y1="493.80" x2="747.64" y2="762.10" stroke="#0c0c0c" stroke-width="1.1" />
<line x1="778.52" y1="493.80" x2="778.52" y2="762.10" stroke="#0c0c0c" stroke-width="1.1" />
<line x1="809.40" y1="493.80" x2="809.40" y2="762.10" stroke="#0c0c0c" stroke-width="1.1" />
<line x1="840.28" y1="493.80" x2="840.28" y2="762.10" stroke="#0c0c0c" stroke-width="1.1" />
<line x1="871.16" y1="493.80" x2="871.16" y2="762.10" stroke="#0c0c0c" stroke-width="1.1" />
<line x1="902.04" y1="493.80" x2="902.04" y2="762.10" stroke="#0c0c0c" stroke-width="1.1" />
<line x1="932.92" y1="493.80" x2="932.92" y2="762.10" stroke="#0c0c0c" stroke-width="1.1" />
<line x1="963.80" y1="493.80" x2="963.80" y2="762.10" stroke="#0c0c0c" stroke-width="1.1" />
<line x1="994.68" y1="493.80" x2="994.68" y2="762.10" stroke="#0c0c0c" stroke-width="1.1" />
<line x1="18.70" y1="514.30" x2="18.70" y2="762.10" stroke="#333" stroke-width="1.4" />
<line x1="37.20" y1="617.70" x2="37.20" y2="762.10" stroke="#000" stroke-width="2.5" />
<line x1="18.70" y1="720.80" x2="1164.20" y2="720.80" stroke="#0c0c0c" stroke-width="1.6" />
<line x1="0.00" y1="762.10" x2="1164.20" y2="762.10" stroke="#0c0c0c" stroke-width="2.2" />
<line x1="0.00" y1="782.80" x2="1164.20" y2="782.80" stroke="#0c0c0c" stroke-width="2.0" />
<line x1="994.68" y1="493.80" x2="994.68" y2="762.10" stroke="#0c0c0c" stroke-width="1.35" />
<line x1="438.00" y1="762.10" x2="438.00" y2="782.80" stroke="#0c0c0c" stroke-width="1.4" />
<line x1="0.00" y1="555.60" x2="37.40" y2="555.60" stroke="#f00" stroke-width="1.3" />
<line x1="0.00" y1="617.70" x2="37.40" y2="617.70" stroke="#f00" stroke-width="1.3" />
<line x1="994.68" y1="555.60" x2="1164.20" y2="555.60" stroke="#f00" stroke-width="1.2" />
<line x1="994.68" y1="617.70" x2="1164.20" y2="617.70" stroke="#f00" stroke-width="1.2" />
<line x1="1164.20" y1="555.60" x2="1164.20" y2="617.70" stroke="#f00" stroke-width="1.5" />
<text transform="translate(53.44,16.70)" font-family="Liberation Sans, Arial, sans-serif" font-size="12.4" text-anchor="middle" fill="#111" textLength="9.70" lengthAdjust="spacingAndGlyphs" stroke="#111" stroke-width="0.25">1.</text>
<text transform="translate(53.44,509.80)" font-family="Liberation Sans, Arial, sans-serif" font-size="12.4" text-anchor="middle" fill="#111" textLength="9.70" lengthAdjust="spacingAndGlyphs" stroke="#111" stroke-width="0.25">1.</text>
<text transform="translate(84.32,16.70)" font-family="Liberation Sans, Arial, sans-serif" font-size="12.4" text-anchor="middle" fill="#111" textLength="9.70" lengthAdjust="spacingAndGlyphs" stroke="#111" stroke-width="0.25">2.</text>
<text transform="translate(84.32,509.80)" font-family="Liberation Sans, Arial, sans-serif" font-size="12.4" text-anchor="middle" fill="#111" textLength="9.70" lengthAdjust="spacingAndGlyphs" stroke="#111" stroke-width="0.25">2.</text>
<text transform="translate(115.20,16.70)" font-family="Liberation Sans, Arial, sans-serif" font-size="12.4" text-anchor="middle" fill="#111" textLength="9.70" lengthAdjust="spacingAndGlyphs" stroke="#111" stroke-width="0.25">3.</text>
<text transform="translate(115.20,509.80)" font-family="Liberation Sans, Arial, sans-serif" font-size="12.4" text-anchor="middle" fill="#111" textLength="9.70" lengthAdjust="spacingAndGlyphs" stroke="#111" stroke-width="0.25">3.</text>
<text transform="translate(146.08,16.70)" font-family="Liberation Sans, Arial, sans-serif" font-size="12.4" text-anchor="middle" fill="#111" textLength="9.70" lengthAdjust="spacingAndGlyphs" stroke="#111" stroke-width="0.25">4.</text>
<text transform="translate(146.08,509.80)" font-family="Liberation Sans, Arial, sans-serif" font-size="12.4" text-anchor="middle" fill="#111" textLength="9.70" lengthAdjust="spacingAndGlyphs" stroke="#111" stroke-width="0.25">4.</text>
<text transform="translate(176.96,16.70)" font-family="Liberation Sans, Arial, sans-serif" font-size="12.4" text-anchor="middle" fill="#111" textLength="9.70" lengthAdjust="spacingAndGlyphs" stroke="#111" stroke-width="0.25">5.</text>
<text transform="translate(176.96,509.80)" font-family="Liberation Sans, Arial, sans-serif" font-size="12.4" text-anchor="middle" fill="#111" textLength="9.70" lengthAdjust="spacingAndGlyphs" stroke="#111" stroke-width="0.25">5.</text>
<text transform="translate(207.84,16.70)" font-family="Liberation Sans, Arial, sans-serif" font-size="12.4" text-anchor="middle" fill="#111" textLength="9.70" lengthAdjust="spacingAndGlyphs" stroke="#111" stroke-width="0.25">6.</text>
<text transform="translate(207.84,509.80)" font-family="Liberation Sans, Arial, sans-serif" font-size="12.4" text-anchor="middle" fill="#111" textLength="9.70" lengthAdjust="spacingAndGlyphs" stroke="#111" stroke-width="0.25">6.</text>
<text transform="translate(238.72,16.70)" font-family="Liberation Sans, Arial, sans-serif" font-size="12.4" text-anchor="middle" fill="#111" textLength="9.70" lengthAdjust="spacingAndGlyphs" stroke="#111" stroke-width="0.25">7.</text>
<text transform="translate(238.72,509.80)" font-family="Liberation Sans, Arial, sans-serif" font-size="12.4" text-anchor="middle" fill="#111" textLength="9.70" lengthAdjust="spacingAndGlyphs" stroke="#111" stroke-width="0.25">7.</text>
<text transform="translate(269.60,16.70)" font-family="Liberation Sans, Arial, sans-serif" font-size="12.4" text-anchor="middle" fill="#111" textLength="9.70" lengthAdjust="spacingAndGlyphs" stroke="#111" stroke-width="0.25">8.</text>
<text transform="translate(269.60,509.80)" font-family="Liberation Sans, Arial, sans-serif" font-size="12.4" text-anchor="middle" fill="#111" textLength="9.70" lengthAdjust="spacingAndGlyphs" stroke="#111" stroke-width="0.25">8.</text>
<text transform="translate(300.48,16.70)" font-family="Liberation Sans, Arial, sans-serif" font-size="12.4" text-anchor="middle" fill="#111" textLength="9.70" lengthAdjust="spacingAndGlyphs" stroke="#111" stroke-width="0.25">9.</text>
<text transform="translate(300.48,509.80)" font-family="Liberation Sans, Arial, sans-serif" font-size="12.4" text-anchor="middle" fill="#111" textLength="9.70" lengthAdjust="spacingAndGlyphs" stroke="#111" stroke-width="0.25">9.</text>
<text transform="translate(331.36,16.70)" font-family="Liberation Sans, Arial, sans-serif" font-size="12.4" text-anchor="middle" fill="#111" textLength="15.50" lengthAdjust="spacingAndGlyphs" stroke="#111" stroke-width="0.25">10.</text>
<text transform="translate(331.36,509.80)" font-family="Liberation Sans, Arial, sans-serif" font-size="12.4" text-anchor="middle" fill="#111" textLength="15.50" lengthAdjust="spacingAndGlyphs" stroke="#111" stroke-width="0.25">10.</text>
<text transform="translate(362.24,16.70)" font-family="Liberation Sans, Arial, sans-serif" font-size="12.4" text-anchor="middle" fill="#111" textLength="15.50" lengthAdjust="spacingAndGlyphs" stroke="#111" stroke-width="0.25">11.</text>
<text transform="translate(362.24,509.80)" font-family="Liberation Sans, Arial, sans-serif" font-size="12.4" text-anchor="middle" fill="#111" textLength="15.50" lengthAdjust="spacingAndGlyphs" stroke="#111" stroke-width="0.25">11.</text>
<text transform="translate(393.12,16.70)" font-family="Liberation Sans, Arial, sans-serif" font-size="12.4" text-anchor="middle" fill="#111" textLength="15.50" lengthAdjust="spacingAndGlyphs" stroke="#111" stroke-width="0.25">12.</text>
<text transform="translate(393.12,509.80)" font-family="Liberation Sans, Arial, sans-serif" font-size="12.4" text-anchor="middle" fill="#111" textLength="15.50" lengthAdjust="spacingAndGlyphs" stroke="#111" stroke-width="0.25">12.</text>
<text transform="translate(424.00,16.70)" font-family="Liberation Sans, Arial, sans-serif" font-size="12.4" text-anchor="middle" fill="#111" textLength="15.50" lengthAdjust="spacingAndGlyphs" stroke="#111" stroke-width="0.25">13.</text>
<text transform="translate(424.00,509.80)" font-family="Liberation Sans, Arial, sans-serif" font-size="12.4" text-anchor="middle" fill="#111" textLength="15.50" lengthAdjust="spacingAndGlyphs" stroke="#111" stroke-width="0.25">13.</text>
<text transform="translate(454.88,16.70)" font-family="Liberation Sans, Arial, sans-serif" font-size="12.4" text-anchor="middle" fill="#111" textLength="15.50" lengthAdjust="spacingAndGlyphs" stroke="#111" stroke-width="0.25">14.</text>
<text transform="translate(454.88,509.80)" font-family="Liberation Sans, Arial, sans-serif" font-size="12.4" text-anchor="middle" fill="#111" textLength="15.50" lengthAdjust="spacingAndGlyphs" stroke="#111" stroke-width="0.25">14.</text>
<text transform="translate(485.76,16.70)" font-family="Liberation Sans, Arial, sans-serif" font-size="12.4" text-anchor="middle" fill="#111" textLength="15.50" lengthAdjust="spacingAndGlyphs" stroke="#111" stroke-width="0.25">15.</text>
<text transform="translate(485.76,509.80)" font-family="Liberation Sans, Arial, sans-serif" font-size="12.4" text-anchor="middle" fill="#111" textLength="15.50" lengthAdjust="spacingAndGlyphs" stroke="#111" stroke-width="0.25">15.</text>
<text transform="translate(516.64,16.70)" font-family="Liberation Sans, Arial, sans-serif" font-size="12.4" text-anchor="middle" fill="#111" textLength="15.50" lengthAdjust="spacingAndGlyphs" stroke="#111" stroke-width="0.25">16.</text>
<text transform="translate(516.64,509.80)" font-family="Liberation Sans, Arial, sans-serif" font-size="12.4" text-anchor="middle" fill="#111" textLength="15.50" lengthAdjust="spacingAndGlyphs" stroke="#111" stroke-width="0.25">16.</text>
<text transform="translate(547.52,16.70)" font-family="Liberation Sans, Arial, sans-serif" font-size="12.4" text-anchor="middle" fill="#111" textLength="15.50" lengthAdjust="spacingAndGlyphs" stroke="#111" stroke-width="0.25">17.</text>
<text transform="translate(547.52,509.80)" font-family="Liberation Sans, Arial, sans-serif" font-size="12.4" text-anchor="middle" fill="#111" textLength="15.50" lengthAdjust="spacingAndGlyphs" stroke="#111" stroke-width="0.25">17.</text>
<text transform="translate(578.40,16.70)" font-family="Liberation Sans, Arial, sans-serif" font-size="12.4" text-anchor="middle" fill="#111" textLength="15.50" lengthAdjust="spacingAndGlyphs" stroke="#111" stroke-width="0.25">18.</text>
<text transform="translate(578.40,509.80)" font-family="Liberation Sans, Arial, sans-serif" font-size="12.4" text-anchor="middle" fill="#111" textLength="15.50" lengthAdjust="spacingAndGlyphs" stroke="#111" stroke-width="0.25">18.</text>
<text transform="translate(609.28,16.70)" font-family="Liberation Sans, Arial, sans-serif" font-size="12.4" text-anchor="middle" fill="#111" textLength="15.50" lengthAdjust="spacingAndGlyphs" stroke="#111" stroke-width="0.25">19.</text>
<text transform="translate(609.28,509.80)" font-family="Liberation Sans, Arial, sans-serif" font-size="12.4" text-anchor="middle" fill="#111" textLength="15.50" lengthAdjust="spacingAndGlyphs" stroke="#111" stroke-width="0.25">19.</text>
<text transform="translate(640.16,16.70)" font-family="Liberation Sans, Arial, sans-serif" font-size="12.4" text-anchor="middle" fill="#111" textLength="15.50" lengthAdjust="spacingAndGlyphs" stroke="#111" stroke-width="0.25">20.</text>
<text transform="translate(640.16,509.80)" font-family="Liberation Sans, Arial, sans-serif" font-size="12.4" text-anchor="middle" fill="#111" textLength="15.50" lengthAdjust="spacingAndGlyphs" stroke="#111" stroke-width="0.25">20.</text>
<text transform="translate(671.04,16.70)" font-family="Liberation Sans, Arial, sans-serif" font-size="12.4" text-anchor="middle" fill="#111" textLength="15.50" lengthAdjust="spacingAndGlyphs" stroke="#111" stroke-width="0.25">21.</text>
<text transform="translate(671.04,509.80)" font-family="Liberation Sans, Arial, sans-serif" font-size="12.4" text-anchor="middle" fill="#111" textLength="15.50" lengthAdjust="spacingAndGlyphs" stroke="#111" stroke-width="0.25">21.</text>
<text transform="translate(701.92,16.70)" font-family="Liberation Sans, Arial, sans-serif" font-size="12.4" text-anchor="middle" fill="#111" textLength="15.50" lengthAdjust="spacingAndGlyphs" stroke="#111" stroke-width="0.25">22.</text>
<text transform="translate(701.92,509.80)" font-family="Liberation Sans, Arial, sans-serif" font-size="12.4" text-anchor="middle" fill="#111" textLength="15.50" lengthAdjust="spacingAndGlyphs" stroke="#111" stroke-width="0.25">22.</text>
<text transform="translate(732.80,16.70)" font-family="Liberation Sans, Arial, sans-serif" font-size="12.4" text-anchor="middle" fill="#111" textLength="15.50" lengthAdjust="spacingAndGlyphs" stroke="#111" stroke-width="0.25">23.</text>
<text transform="translate(732.80,509.80)" font-family="Liberation Sans, Arial, sans-serif" font-size="12.4" text-anchor="middle" fill="#111" textLength="15.50" lengthAdjust="spacingAndGlyphs" stroke="#111" stroke-width="0.25">23.</text>
<text transform="translate(763.68,16.70)" font-family="Liberation Sans, Arial, sans-serif" font-size="12.4" text-anchor="middle" fill="#111" textLength="15.50" lengthAdjust="spacingAndGlyphs" stroke="#111" stroke-width="0.25">24.</text>
<text transform="translate(763.68,509.80)" font-family="Liberation Sans, Arial, sans-serif" font-size="12.4" text-anchor="middle" fill="#111" textLength="15.50" lengthAdjust="spacingAndGlyphs" stroke="#111" stroke-width="0.25">24.</text>
<text transform="translate(794.56,16.70)" font-family="Liberation Sans, Arial, sans-serif" font-size="12.4" text-anchor="middle" fill="#111" textLength="15.50" lengthAdjust="spacingAndGlyphs" stroke="#111" stroke-width="0.25">25.</text>
<text transform="translate(794.56,509.80)" font-family="Liberation Sans, Arial, sans-serif" font-size="12.4" text-anchor="middle" fill="#111" textLength="15.50" lengthAdjust="spacingAndGlyphs" stroke="#111" stroke-width="0.25">25.</text>
<text transform="translate(825.44,16.70)" font-family="Liberation Sans, Arial, sans-serif" font-size="12.4" text-anchor="middle" fill="#111" textLength="15.50" lengthAdjust="spacingAndGlyphs" stroke="#111" stroke-width="0.25">26.</text>
<text transform="translate(825.44,509.80)" font-family="Liberation Sans, Arial, sans-serif" font-size="12.4" text-anchor="middle" fill="#111" textLength="15.50" lengthAdjust="spacingAndGlyphs" stroke="#111" stroke-width="0.25">26.</text>
<text transform="translate(856.32,16.70)" font-family="Liberation Sans, Arial, sans-serif" font-size="12.4" text-anchor="middle" fill="#111" textLength="15.50" lengthAdjust="spacingAndGlyphs" stroke="#111" stroke-width="0.25">27.</text>
<text transform="translate(856.32,509.80)" font-family="Liberation Sans, Arial, sans-serif" font-size="12.4" text-anchor="middle" fill="#111" textLength="15.50" lengthAdjust="spacingAndGlyphs" stroke="#111" stroke-width="0.25">27.</text>
<text transform="translate(887.20,16.70)" font-family="Liberation Sans, Arial, sans-serif" font-size="12.4" text-anchor="middle" fill="#111" textLength="15.50" lengthAdjust="spacingAndGlyphs" stroke="#111" stroke-width="0.25">28.</text>
<text transform="translate(887.20,509.80)" font-family="Liberation Sans, Arial, sans-serif" font-size="12.4" text-anchor="middle" fill="#111" textLength="15.50" lengthAdjust="spacingAndGlyphs" stroke="#111" stroke-width="0.25">28.</text>
<text transform="translate(918.08,16.70)" font-family="Liberation Sans, Arial, sans-serif" font-size="12.4" text-anchor="middle" fill="#111" textLength="15.50" lengthAdjust="spacingAndGlyphs" stroke="#111" stroke-width="0.25">29.</text>
<text transform="translate(918.08,509.80)" font-family="Liberation Sans, Arial, sans-serif" font-size="12.4" text-anchor="middle" fill="#111" textLength="15.50" lengthAdjust="spacingAndGlyphs" stroke="#111" stroke-width="0.25">29.</text>
<text transform="translate(948.96,16.70)" font-family="Liberation Sans, Arial, sans-serif" font-size="12.4" text-anchor="middle" fill="#111" textLength="15.50" lengthAdjust="spacingAndGlyphs" stroke="#111" stroke-width="0.25">30.</text>
<text transform="translate(948.96,509.80)" font-family="Liberation Sans, Arial, sans-serif" font-size="12.4" text-anchor="middle" fill="#111" textLength="15.50" lengthAdjust="spacingAndGlyphs" stroke="#111" stroke-width="0.25">30.</text>
<text transform="translate(979.84,16.70)" font-family="Liberation Sans, Arial, sans-serif" font-size="12.4" text-anchor="middle" fill="#111" textLength="15.50" lengthAdjust="spacingAndGlyphs" stroke="#111" stroke-width="0.25">31.</text>
<text transform="translate(979.84,509.80)" font-family="Liberation Sans, Arial, sans-serif" font-size="12.4" text-anchor="middle" fill="#111" textLength="15.50" lengthAdjust="spacingAndGlyphs" stroke="#111" stroke-width="0.25">31.</text>
<text transform="translate(19.50,509.00)" font-family="Liberation Sans, Arial, sans-serif" font-size="13.2" text-anchor="middle" fill="#111" textLength="17.90" lengthAdjust="spacingAndGlyphs" stroke="#111" stroke-width="0.25">Tag</text>
<text transform="translate(32.80,51.70) rotate(-90)" font-family="Liberation Sans, Arial, sans-serif" font-size="11.4" text-anchor="middle" fill="#111" textLength="29.20" lengthAdjust="spacingAndGlyphs" stroke="#111" stroke-width="0.25">Wind</text>
<text transform="translate(516.00,58.70)" font-family="Liberation Sans, Arial, sans-serif" font-size="15.8" text-anchor="middle" fill="#111" font-weight="bold" textLength="132.10" lengthAdjust="spacingAndGlyphs" >Keine Daten -  = KD</text>
<text transform="translate(27.20,530.50)" font-family="Liberation Sans, Arial, sans-serif" font-size="12.6" text-anchor="middle" fill="#111" textLength="12.10" lengthAdjust="spacingAndGlyphs" >°C</text>
<text transform="translate(27.20,571.60)" font-family="Liberation Sans, Arial, sans-serif" font-size="12.6" text-anchor="middle" fill="#111" textLength="12.10" lengthAdjust="spacingAndGlyphs" >°C</text>
<text transform="translate(27.20,592.20)" font-family="Liberation Sans, Arial, sans-serif" font-size="12.6" text-anchor="middle" fill="#111" textLength="12.10" lengthAdjust="spacingAndGlyphs" >°C</text>
<text transform="translate(27.20,612.90)" font-family="Liberation Sans, Arial, sans-serif" font-size="12.6" text-anchor="middle" fill="#111" textLength="12.10" lengthAdjust="spacingAndGlyphs" >°C</text>
<text transform="translate(28.60,550.30)" font-family="Liberation Sans, Arial, sans-serif" font-size="8.6" text-anchor="middle" fill="#222" font-weight="bold" textLength="14.20" lengthAdjust="spacingAndGlyphs" >l/m²</text>
<text transform="translate(65.88,551.20)" font-family="Liberation Serif, Times New Roman, serif" font-size="14.8" text-anchor="end" fill="#111" textLength="14.50" lengthAdjust="spacingAndGlyphs" stroke="#111" stroke-width="0.25">4,1</text>
<text transform="translate(66.28,571.70)" font-family="Liberation Serif, Times New Roman, serif" font-size="16.3" text-anchor="end" fill="#111" textLength="25.00" lengthAdjust="spacingAndGlyphs" stroke="#111" stroke-width="0.22">21,4</text>
<text transform="translate(66.28,592.30)" font-family="Liberation Serif, Times New Roman, serif" font-size="16.3" text-anchor="end" fill="#111" textLength="25.00" lengthAdjust="spacingAndGlyphs" stroke="#111" stroke-width="0.22">14,6</text>
<text transform="translate(66.28,613.00)" font-family="Liberation Sans, Arial, sans-serif" font-size="14.9" text-anchor="end" fill="#111" textLength="24.70" lengthAdjust="spacingAndGlyphs" stroke="#111" stroke-width="0.25">18,0</text>
<text transform="translate(53.04,738.00)" font-family="Liberation Serif, Times New Roman, serif" font-size="17.0" text-anchor="middle" fill="#222" textLength="17.80" lengthAdjust="spacingAndGlyphs" >0,0</text>
<text transform="translate(53.04,757.20)" font-family="Liberation Serif, Times New Roman, serif" font-size="17.0" text-anchor="middle" fill="#222" textLength="17.80" lengthAdjust="spacingAndGlyphs" >0,0</text>
<text transform="translate(96.76,551.20)" font-family="Liberation Serif, Times New Roman, serif" font-size="14.8" text-anchor="end" fill="#111" textLength="14.50" lengthAdjust="spacingAndGlyphs" stroke="#111" stroke-width="0.25">0,0</text>
<text transform="translate(97.16,571.70)" font-family="Liberation Serif, Times New Roman, serif" font-size="16.3" text-anchor="end" fill="#111" textLength="25.00" lengthAdjust="spacingAndGlyphs" stroke="#111" stroke-width="0.22">22,9</text>
<text transform="translate(97.16,592.30)" font-family="Liberation Serif, Times New Roman, serif" font-size="16.3" text-anchor="end" fill="#111" textLength="25.00" lengthAdjust="spacingAndGlyphs" stroke="#111" stroke-width="0.22">12,7</text>
<text transform="translate(97.16,613.00)" font-family="Liberation Sans, Arial, sans-serif" font-size="14.9" text-anchor="end" fill="#111" textLength="24.70" lengthAdjust="spacingAndGlyphs" stroke="#111" stroke-width="0.25">17,8</text>
<text transform="translate(83.92,738.00)" font-family="Liberation Serif, Times New Roman, serif" font-size="17.0" text-anchor="middle" fill="#222" textLength="17.80" lengthAdjust="spacingAndGlyphs" >0,0</text>
<text transform="translate(83.92,757.20)" font-family="Liberation Serif, Times New Roman, serif" font-size="17.0" text-anchor="middle" fill="#222" textLength="17.80" lengthAdjust="spacingAndGlyphs" >0,0</text>
<text transform="translate(127.64,551.20)" font-family="Liberation Serif, Times New Roman, serif" font-size="14.8" text-anchor="end" fill="#111" textLength="14.50" lengthAdjust="spacingAndGlyphs" stroke="#111" stroke-width="0.25">0,0</text>
<text transform="translate(128.04,571.70)" font-family="Liberation Serif, Times New Roman, serif" font-size="16.3" text-anchor="end" fill="#111" textLength="25.00" lengthAdjust="spacingAndGlyphs" stroke="#111" stroke-width="0.22">28,3</text>
<text transform="translate(128.04,592.30)" font-family="Liberation Serif, Times New Roman, serif" font-size="16.3" text-anchor="end" fill="#111" textLength="25.00" lengthAdjust="spacingAndGlyphs" stroke="#111" stroke-width="0.22">13,2</text>
<text transform="translate(128.04,613.00)" font-family="Liberation Sans, Arial, sans-serif" font-size="14.9" text-anchor="end" fill="#111" textLength="24.70" lengthAdjust="spacingAndGlyphs" stroke="#111" stroke-width="0.25">20,8</text>
<text transform="translate(114.80,738.00)" font-family="Liberation Serif, Times New Roman, serif" font-size="17.0" text-anchor="middle" fill="#222" textLength="17.80" lengthAdjust="spacingAndGlyphs" >0,0</text>
<text transform="translate(114.80,757.20)" font-family="Liberation Serif, Times New Roman, serif" font-size="17.0" text-anchor="middle" fill="#222" textLength="17.80" lengthAdjust="spacingAndGlyphs" >0,0</text>
<text transform="translate(158.52,551.20)" font-family="Liberation Serif, Times New Roman, serif" font-size="14.8" text-anchor="end" fill="#111" textLength="20.40" lengthAdjust="spacingAndGlyphs" stroke="#111" stroke-width="0.25">14,9</text>
<text transform="translate(158.92,571.70)" font-family="Liberation Serif, Times New Roman, serif" font-size="16.3" text-anchor="end" fill="#111" textLength="25.00" lengthAdjust="spacingAndGlyphs" stroke="#111" stroke-width="0.22">25,0</text>
<text transform="translate(158.92,592.30)" font-family="Liberation Serif, Times New Roman, serif" font-size="16.3" text-anchor="end" fill="#111" textLength="25.00" lengthAdjust="spacingAndGlyphs" stroke="#111" stroke-width="0.22">15,0</text>
<text transform="translate(158.92,613.00)" font-family="Liberation Sans, Arial, sans-serif" font-size="14.9" text-anchor="end" fill="#111" textLength="24.70" lengthAdjust="spacingAndGlyphs" stroke="#111" stroke-width="0.25">20,0</text>
<text transform="translate(145.68,738.00)" font-family="Liberation Serif, Times New Roman, serif" font-size="17.0" text-anchor="middle" fill="#222" textLength="17.80" lengthAdjust="spacingAndGlyphs" >0,0</text>
<text transform="translate(145.68,757.20)" font-family="Liberation Serif, Times New Roman, serif" font-size="17.0" text-anchor="middle" fill="#222" textLength="17.80" lengthAdjust="spacingAndGlyphs" >0,0</text>
<text transform="translate(189.40,551.20)" font-family="Liberation Serif, Times New Roman, serif" font-size="14.8" text-anchor="end" fill="#111" textLength="14.50" lengthAdjust="spacingAndGlyphs" stroke="#111" stroke-width="0.25">3,5</text>
<text transform="translate(189.80,571.70)" font-family="Liberation Serif, Times New Roman, serif" font-size="16.3" text-anchor="end" fill="#111" textLength="25.00" lengthAdjust="spacingAndGlyphs" stroke="#111" stroke-width="0.22">19,8</text>
<text transform="translate(189.80,592.30)" font-family="Liberation Serif, Times New Roman, serif" font-size="16.3" text-anchor="end" fill="#111" textLength="25.00" lengthAdjust="spacingAndGlyphs" stroke="#111" stroke-width="0.22">14,8</text>
<text transform="translate(189.80,613.00)" font-family="Liberation Sans, Arial, sans-serif" font-size="14.9" text-anchor="end" fill="#111" textLength="24.70" lengthAdjust="spacingAndGlyphs" stroke="#111" stroke-width="0.25">17,3</text>
<text transform="translate(176.56,738.00)" font-family="Liberation Serif, Times New Roman, serif" font-size="17.0" text-anchor="middle" fill="#222" textLength="17.80" lengthAdjust="spacingAndGlyphs" >0,0</text>
<text transform="translate(176.56,757.20)" font-family="Liberation Serif, Times New Roman, serif" font-size="17.0" text-anchor="middle" fill="#222" textLength="17.80" lengthAdjust="spacingAndGlyphs" >0,0</text>
<text transform="translate(220.28,551.20)" font-family="Liberation Serif, Times New Roman, serif" font-size="14.8" text-anchor="end" fill="#111" textLength="14.50" lengthAdjust="spacingAndGlyphs" stroke="#111" stroke-width="0.25">0,0</text>
<text transform="translate(220.68,571.70)" font-family="Liberation Serif, Times New Roman, serif" font-size="16.3" text-anchor="end" fill="#111" textLength="25.00" lengthAdjust="spacingAndGlyphs" stroke="#111" stroke-width="0.22">20,7</text>
<text transform="translate(220.68,592.30)" font-family="Liberation Serif, Times New Roman, serif" font-size="16.3" text-anchor="end" fill="#111" textLength="25.00" lengthAdjust="spacingAndGlyphs" stroke="#111" stroke-width="0.22">13,1</text>
<text transform="translate(220.68,613.00)" font-family="Liberation Sans, Arial, sans-serif" font-size="14.9" text-anchor="end" fill="#111" textLength="24.70" lengthAdjust="spacingAndGlyphs" stroke="#111" stroke-width="0.25">16,9</text>
<text transform="translate(207.44,738.00)" font-family="Liberation Serif, Times New Roman, serif" font-size="17.0" text-anchor="middle" fill="#222" textLength="17.80" lengthAdjust="spacingAndGlyphs" >0,0</text>
<text transform="translate(207.44,757.20)" font-family="Liberation Serif, Times New Roman, serif" font-size="17.0" text-anchor="middle" fill="#222" textLength="17.80" lengthAdjust="spacingAndGlyphs" >0,0</text>
<text transform="translate(251.16,551.20)" font-family="Liberation Serif, Times New Roman, serif" font-size="14.8" text-anchor="end" fill="#111" textLength="14.50" lengthAdjust="spacingAndGlyphs" stroke="#111" stroke-width="0.25">1,0</text>
<text transform="translate(251.56,571.70)" font-family="Liberation Serif, Times New Roman, serif" font-size="16.3" text-anchor="end" fill="#111" textLength="25.00" lengthAdjust="spacingAndGlyphs" stroke="#111" stroke-width="0.22">21,3</text>
<text transform="translate(251.56,592.30)" font-family="Liberation Serif, Times New Roman, serif" font-size="16.3" text-anchor="end" fill="#111" textLength="18.20" lengthAdjust="spacingAndGlyphs" stroke="#111" stroke-width="0.22">8,7</text>
<text transform="translate(251.56,613.00)" font-family="Liberation Sans, Arial, sans-serif" font-size="14.9" text-anchor="end" fill="#111" textLength="24.70" lengthAdjust="spacingAndGlyphs" stroke="#111" stroke-width="0.25">15,0</text>
<text transform="translate(238.32,738.00)" font-family="Liberation Serif, Times New Roman, serif" font-size="17.0" text-anchor="middle" fill="#222" textLength="17.80" lengthAdjust="spacingAndGlyphs" >0,0</text>
<text transform="translate(238.32,757.20)" font-family="Liberation Serif, Times New Roman, serif" font-size="17.0" text-anchor="middle" fill="#222" textLength="17.80" lengthAdjust="spacingAndGlyphs" >0,0</text>
<text transform="translate(282.04,551.20)" font-family="Liberation Serif, Times New Roman, serif" font-size="14.8" text-anchor="end" fill="#111" textLength="14.50" lengthAdjust="spacingAndGlyphs" stroke="#111" stroke-width="0.25">0,0</text>
<text transform="translate(282.44,571.70)" font-family="Liberation Serif, Times New Roman, serif" font-size="16.3" text-anchor="end" fill="#111" textLength="25.00" lengthAdjust="spacingAndGlyphs" stroke="#111" stroke-width="0.22">20,3</text>
<text transform="translate(282.44,592.30)" font-family="Liberation Serif, Times New Roman, serif" font-size="16.3" text-anchor="end" fill="#111" textLength="25.00" lengthAdjust="spacingAndGlyphs" stroke="#111" stroke-width="0.22">11,4</text>
<text transform="translate(282.44,613.00)" font-family="Liberation Sans, Arial, sans-serif" font-size="14.9" text-anchor="end" fill="#111" textLength="24.70" lengthAdjust="spacingAndGlyphs" stroke="#111" stroke-width="0.25">15,9</text>
<text transform="translate(269.20,738.00)" font-family="Liberation Serif, Times New Roman, serif" font-size="17.0" text-anchor="middle" fill="#222" textLength="17.80" lengthAdjust="spacingAndGlyphs" >0,0</text>
<text transform="translate(269.20,757.20)" font-family="Liberation Serif, Times New Roman, serif" font-size="17.0" text-anchor="middle" fill="#222" textLength="17.80" lengthAdjust="spacingAndGlyphs" >0,0</text>
<text transform="translate(312.92,551.20)" font-family="Liberation Serif, Times New Roman, serif" font-size="14.8" text-anchor="end" fill="#111" textLength="14.50" lengthAdjust="spacingAndGlyphs" stroke="#111" stroke-width="0.25">2,6</text>
<text transform="translate(313.32,571.70)" font-family="Liberation Serif, Times New Roman, serif" font-size="16.3" text-anchor="end" fill="#111" textLength="25.00" lengthAdjust="spacingAndGlyphs" stroke="#111" stroke-width="0.22">20,1</text>
<text transform="translate(313.32,592.30)" font-family="Liberation Serif, Times New Roman, serif" font-size="16.3" text-anchor="end" fill="#111" textLength="25.00" lengthAdjust="spacingAndGlyphs" stroke="#111" stroke-width="0.22">13,4</text>
<text transform="translate(313.32,613.00)" font-family="Liberation Sans, Arial, sans-serif" font-size="14.9" text-anchor="end" fill="#111" textLength="24.70" lengthAdjust="spacingAndGlyphs" stroke="#111" stroke-width="0.25">16,8</text>
<text transform="translate(300.08,738.00)" font-family="Liberation Serif, Times New Roman, serif" font-size="17.0" text-anchor="middle" fill="#222" textLength="17.80" lengthAdjust="spacingAndGlyphs" >0,0</text>
<text transform="translate(300.08,757.20)" font-family="Liberation Serif, Times New Roman, serif" font-size="17.0" text-anchor="middle" fill="#222" textLength="17.80" lengthAdjust="spacingAndGlyphs" >0,0</text>
<text transform="translate(343.80,551.20)" font-family="Liberation Serif, Times New Roman, serif" font-size="14.8" text-anchor="end" fill="#111" textLength="20.40" lengthAdjust="spacingAndGlyphs" stroke="#111" stroke-width="0.25">14,4</text>
<text transform="translate(344.20,571.70)" font-family="Liberation Serif, Times New Roman, serif" font-size="16.3" text-anchor="end" fill="#111" textLength="25.00" lengthAdjust="spacingAndGlyphs" stroke="#111" stroke-width="0.22">18,5</text>
<text transform="translate(344.20,592.30)" font-family="Liberation Serif, Times New Roman, serif" font-size="16.3" text-anchor="end" fill="#111" textLength="25.00" lengthAdjust="spacingAndGlyphs" stroke="#111" stroke-width="0.22">13,8</text>
<text transform="translate(344.20,613.00)" font-family="Liberation Sans, Arial, sans-serif" font-size="14.9" text-anchor="end" fill="#111" textLength="24.70" lengthAdjust="spacingAndGlyphs" stroke="#111" stroke-width="0.25">16,2</text>
<text transform="translate(330.96,738.00)" font-family="Liberation Serif, Times New Roman, serif" font-size="17.0" text-anchor="middle" fill="#222" textLength="17.80" lengthAdjust="spacingAndGlyphs" >0,0</text>
<text transform="translate(330.96,757.20)" font-family="Liberation Serif, Times New Roman, serif" font-size="17.0" text-anchor="middle" fill="#222" textLength="17.80" lengthAdjust="spacingAndGlyphs" >0,0</text>
<text transform="translate(374.68,551.20)" font-family="Liberation Serif, Times New Roman, serif" font-size="14.8" text-anchor="end" fill="#111" textLength="14.50" lengthAdjust="spacingAndGlyphs" stroke="#111" stroke-width="0.25">9,5</text>
<text transform="translate(375.08,571.70)" font-family="Liberation Serif, Times New Roman, serif" font-size="16.3" text-anchor="end" fill="#111" textLength="25.00" lengthAdjust="spacingAndGlyphs" stroke="#111" stroke-width="0.22">18,5</text>
<text transform="translate(375.08,592.30)" font-family="Liberation Serif, Times New Roman, serif" font-size="16.3" text-anchor="end" fill="#111" textLength="25.00" lengthAdjust="spacingAndGlyphs" stroke="#111" stroke-width="0.22">14,2</text>
<text transform="translate(375.08,613.00)" font-family="Liberation Sans, Arial, sans-serif" font-size="14.9" text-anchor="end" fill="#111" textLength="24.70" lengthAdjust="spacingAndGlyphs" stroke="#111" stroke-width="0.25">16,4</text>
<text transform="translate(361.84,738.00)" font-family="Liberation Serif, Times New Roman, serif" font-size="17.0" text-anchor="middle" fill="#222" textLength="17.80" lengthAdjust="spacingAndGlyphs" >0,0</text>
<text transform="translate(361.84,757.20)" font-family="Liberation Serif, Times New Roman, serif" font-size="17.0" text-anchor="middle" fill="#222" textLength="17.80" lengthAdjust="spacingAndGlyphs" >0,0</text>
<text transform="translate(405.56,551.20)" font-family="Liberation Serif, Times New Roman, serif" font-size="14.8" text-anchor="end" fill="#111" textLength="14.50" lengthAdjust="spacingAndGlyphs" stroke="#111" stroke-width="0.25">0,0</text>
<text transform="translate(405.96,571.70)" font-family="Liberation Serif, Times New Roman, serif" font-size="16.3" text-anchor="end" fill="#111" textLength="25.00" lengthAdjust="spacingAndGlyphs" stroke="#111" stroke-width="0.22">17,9</text>
<text transform="translate(405.96,592.30)" font-family="Liberation Serif, Times New Roman, serif" font-size="16.3" text-anchor="end" fill="#111" textLength="25.00" lengthAdjust="spacingAndGlyphs" stroke="#111" stroke-width="0.22">13,3</text>
<text transform="translate(405.96,613.00)" font-family="Liberation Sans, Arial, sans-serif" font-size="14.9" text-anchor="end" fill="#111" textLength="24.70" lengthAdjust="spacingAndGlyphs" stroke="#111" stroke-width="0.25">15,6</text>
<text transform="translate(392.72,738.00)" font-family="Liberation Serif, Times New Roman, serif" font-size="17.0" text-anchor="middle" fill="#222" textLength="17.80" lengthAdjust="spacingAndGlyphs" >0,0</text>
<text transform="translate(392.72,757.20)" font-family="Liberation Serif, Times New Roman, serif" font-size="17.0" text-anchor="middle" fill="#222" textLength="17.80" lengthAdjust="spacingAndGlyphs" >0,0</text>
<text transform="translate(436.44,551.20)" font-family="Liberation Serif, Times New Roman, serif" font-size="14.8" text-anchor="end" fill="#111" textLength="14.50" lengthAdjust="spacingAndGlyphs" stroke="#111" stroke-width="0.25">0,0</text>
<text transform="translate(436.84,571.70)" font-family="Liberation Serif, Times New Roman, serif" font-size="16.3" text-anchor="end" fill="#111" textLength="25.00" lengthAdjust="spacingAndGlyphs" stroke="#111" stroke-width="0.22">20,7</text>
<text transform="translate(436.84,592.30)" font-family="Liberation Serif, Times New Roman, serif" font-size="16.3" text-anchor="end" fill="#111" textLength="25.00" lengthAdjust="spacingAndGlyphs" stroke="#111" stroke-width="0.22">10,0</text>
<text transform="translate(436.84,613.00)" font-family="Liberation Sans, Arial, sans-serif" font-size="14.9" text-anchor="end" fill="#111" textLength="24.70" lengthAdjust="spacingAndGlyphs" stroke="#111" stroke-width="0.25">15,4</text>
<text transform="translate(423.60,738.00)" font-family="Liberation Serif, Times New Roman, serif" font-size="17.0" text-anchor="middle" fill="#222" textLength="17.80" lengthAdjust="spacingAndGlyphs" >0,0</text>
<text transform="translate(423.60,757.20)" font-family="Liberation Serif, Times New Roman, serif" font-size="17.0" text-anchor="middle" fill="#222" textLength="17.80" lengthAdjust="spacingAndGlyphs" >0,0</text>
<text transform="translate(467.32,551.20)" font-family="Liberation Serif, Times New Roman, serif" font-size="14.8" text-anchor="end" fill="#111" textLength="14.50" lengthAdjust="spacingAndGlyphs" stroke="#111" stroke-width="0.25">0,0</text>
<text transform="translate(467.72,571.70)" font-family="Liberation Serif, Times New Roman, serif" font-size="16.3" text-anchor="end" fill="#111" textLength="25.00" lengthAdjust="spacingAndGlyphs" stroke="#111" stroke-width="0.22">22,3</text>
<text transform="translate(467.72,592.30)" font-family="Liberation Serif, Times New Roman, serif" font-size="16.3" text-anchor="end" fill="#111" textLength="18.20" lengthAdjust="spacingAndGlyphs" stroke="#111" stroke-width="0.22">8,9</text>
<text transform="translate(467.72,613.00)" font-family="Liberation Sans, Arial, sans-serif" font-size="14.9" text-anchor="end" fill="#111" textLength="24.70" lengthAdjust="spacingAndGlyphs" stroke="#111" stroke-width="0.25">15,6</text>
<text transform="translate(454.48,738.00)" font-family="Liberation Serif, Times New Roman, serif" font-size="17.0" text-anchor="middle" fill="#222" textLength="17.80" lengthAdjust="spacingAndGlyphs" >0,0</text>
<text transform="translate(454.48,757.20)" font-family="Liberation Serif, Times New Roman, serif" font-size="17.0" text-anchor="middle" fill="#222" textLength="17.80" lengthAdjust="spacingAndGlyphs" >0,0</text>
<text transform="translate(498.20,551.20)" font-family="Liberation Serif, Times New Roman, serif" font-size="14.8" text-anchor="end" fill="#111" textLength="14.50" lengthAdjust="spacingAndGlyphs" stroke="#111" stroke-width="0.25">0,0</text>
<text transform="translate(498.60,571.70)" font-family="Liberation Serif, Times New Roman, serif" font-size="16.3" text-anchor="end" fill="#111" textLength="25.00" lengthAdjust="spacingAndGlyphs" stroke="#111" stroke-width="0.22">21,0</text>
<text transform="translate(498.60,592.30)" font-family="Liberation Serif, Times New Roman, serif" font-size="16.3" text-anchor="end" fill="#111" textLength="18.20" lengthAdjust="spacingAndGlyphs" stroke="#111" stroke-width="0.22">8,5</text>
<text transform="translate(498.60,613.00)" font-family="Liberation Sans, Arial, sans-serif" font-size="14.9" text-anchor="end" fill="#111" textLength="24.70" lengthAdjust="spacingAndGlyphs" stroke="#111" stroke-width="0.25">14,8</text>
<text transform="translate(485.36,738.00)" font-family="Liberation Serif, Times New Roman, serif" font-size="17.0" text-anchor="middle" fill="#222" textLength="17.80" lengthAdjust="spacingAndGlyphs" >0,0</text>
<text transform="translate(485.36,757.20)" font-family="Liberation Serif, Times New Roman, serif" font-size="17.0" text-anchor="middle" fill="#222" textLength="17.80" lengthAdjust="spacingAndGlyphs" >0,0</text>
<text transform="translate(529.08,551.20)" font-family="Liberation Serif, Times New Roman, serif" font-size="14.8" text-anchor="end" fill="#111" textLength="14.50" lengthAdjust="spacingAndGlyphs" stroke="#111" stroke-width="0.25">0,0</text>
<text transform="translate(529.48,571.70)" font-family="Liberation Serif, Times New Roman, serif" font-size="16.3" text-anchor="end" fill="#111" textLength="25.00" lengthAdjust="spacingAndGlyphs" stroke="#111" stroke-width="0.22">21,4</text>
<text transform="translate(529.48,592.30)" font-family="Liberation Serif, Times New Roman, serif" font-size="16.3" text-anchor="end" fill="#111" textLength="18.20" lengthAdjust="spacingAndGlyphs" stroke="#111" stroke-width="0.22">8,7</text>
<text transform="translate(529.48,613.00)" font-family="Liberation Sans, Arial, sans-serif" font-size="14.9" text-anchor="end" fill="#111" textLength="24.70" lengthAdjust="spacingAndGlyphs" stroke="#111" stroke-width="0.25">15,1</text>
<text transform="translate(516.24,738.00)" font-family="Liberation Serif, Times New Roman, serif" font-size="17.0" text-anchor="middle" fill="#222" textLength="17.80" lengthAdjust="spacingAndGlyphs" >0,0</text>
<text transform="translate(516.24,757.20)" font-family="Liberation Serif, Times New Roman, serif" font-size="17.0" text-anchor="middle" fill="#222" textLength="17.80" lengthAdjust="spacingAndGlyphs" >0,0</text>
<text transform="translate(559.96,551.20)" font-family="Liberation Serif, Times New Roman, serif" font-size="14.8" text-anchor="end" fill="#111" textLength="14.50" lengthAdjust="spacingAndGlyphs" stroke="#111" stroke-width="0.25">0,0</text>
<text transform="translate(560.36,571.70)" font-family="Liberation Serif, Times New Roman, serif" font-size="16.3" text-anchor="end" fill="#111" textLength="25.00" lengthAdjust="spacingAndGlyphs" stroke="#111" stroke-width="0.22">21,9</text>
<text transform="translate(560.36,592.30)" font-family="Liberation Serif, Times New Roman, serif" font-size="16.3" text-anchor="end" fill="#111" textLength="18.20" lengthAdjust="spacingAndGlyphs" stroke="#111" stroke-width="0.22">7,6</text>
<text transform="translate(560.36,613.00)" font-family="Liberation Sans, Arial, sans-serif" font-size="14.9" text-anchor="end" fill="#111" textLength="24.70" lengthAdjust="spacingAndGlyphs" stroke="#111" stroke-width="0.25">14,8</text>
<text transform="translate(547.12,738.00)" font-family="Liberation Serif, Times New Roman, serif" font-size="17.0" text-anchor="middle" fill="#222" textLength="17.80" lengthAdjust="spacingAndGlyphs" >0,0</text>
<text transform="translate(547.12,757.20)" font-family="Liberation Serif, Times New Roman, serif" font-size="17.0" text-anchor="middle" fill="#222" textLength="17.80" lengthAdjust="spacingAndGlyphs" >0,0</text>
<text transform="translate(590.84,551.20)" font-family="Liberation Serif, Times New Roman, serif" font-size="14.8" text-anchor="end" fill="#111" textLength="14.50" lengthAdjust="spacingAndGlyphs" stroke="#111" stroke-width="0.25">0,0</text>
<text transform="translate(591.24,571.70)" font-family="Liberation Serif, Times New Roman, serif" font-size="16.3" text-anchor="end" fill="#111" textLength="25.00" lengthAdjust="spacingAndGlyphs" stroke="#111" stroke-width="0.22">20,7</text>
<text transform="translate(591.24,592.30)" font-family="Liberation Serif, Times New Roman, serif" font-size="16.3" text-anchor="end" fill="#111" textLength="18.20" lengthAdjust="spacingAndGlyphs" stroke="#111" stroke-width="0.22">8,5</text>
<text transform="translate(591.24,613.00)" font-family="Liberation Sans, Arial, sans-serif" font-size="14.9" text-anchor="end" fill="#111" textLength="24.70" lengthAdjust="spacingAndGlyphs" stroke="#111" stroke-width="0.25">14,6</text>
<text transform="translate(578.00,738.00)" font-family="Liberation Serif, Times New Roman, serif" font-size="17.0" text-anchor="middle" fill="#222" textLength="17.80" lengthAdjust="spacingAndGlyphs" >0,0</text>
<text transform="translate(578.00,757.20)" font-family="Liberation Serif, Times New Roman, serif" font-size="17.0" text-anchor="middle" fill="#222" textLength="17.80" lengthAdjust="spacingAndGlyphs" >0,0</text>
<text transform="translate(621.72,551.20)" font-family="Liberation Serif, Times New Roman, serif" font-size="14.8" text-anchor="end" fill="#111" textLength="14.50" lengthAdjust="spacingAndGlyphs" stroke="#111" stroke-width="0.25">0,0</text>
<text transform="translate(622.12,571.70)" font-family="Liberation Serif, Times New Roman, serif" font-size="16.3" text-anchor="end" fill="#111" textLength="25.00" lengthAdjust="spacingAndGlyphs" stroke="#111" stroke-width="0.22">21,8</text>
<text transform="translate(622.12,592.30)" font-family="Liberation Serif, Times New Roman, serif" font-size="16.3" text-anchor="end" fill="#111" textLength="25.00" lengthAdjust="spacingAndGlyphs" stroke="#111" stroke-width="0.22">10,6</text>
<text transform="translate(622.12,613.00)" font-family="Liberation Sans, Arial, sans-serif" font-size="14.9" text-anchor="end" fill="#111" textLength="24.70" lengthAdjust="spacingAndGlyphs" stroke="#111" stroke-width="0.25">16,2</text>
<text transform="translate(608.88,738.00)" font-family="Liberation Serif, Times New Roman, serif" font-size="17.0" text-anchor="middle" fill="#222" textLength="17.80" lengthAdjust="spacingAndGlyphs" >0,0</text>
<text transform="translate(608.88,757.20)" font-family="Liberation Serif, Times New Roman, serif" font-size="17.0" text-anchor="middle" fill="#222" textLength="17.80" lengthAdjust="spacingAndGlyphs" >0,0</text>
<text transform="translate(652.60,551.20)" font-family="Liberation Serif, Times New Roman, serif" font-size="14.8" text-anchor="end" fill="#111" textLength="14.50" lengthAdjust="spacingAndGlyphs" stroke="#111" stroke-width="0.25">0,0</text>
<text transform="translate(653.00,571.70)" font-family="Liberation Serif, Times New Roman, serif" font-size="16.3" text-anchor="end" fill="#111" textLength="25.00" lengthAdjust="spacingAndGlyphs" stroke="#111" stroke-width="0.22">23,2</text>
<text transform="translate(653.00,592.30)" font-family="Liberation Serif, Times New Roman, serif" font-size="16.3" text-anchor="end" fill="#111" textLength="18.20" lengthAdjust="spacingAndGlyphs" stroke="#111" stroke-width="0.22">8,3</text>
<text transform="translate(653.00,613.00)" font-family="Liberation Sans, Arial, sans-serif" font-size="14.9" text-anchor="end" fill="#111" textLength="24.70" lengthAdjust="spacingAndGlyphs" stroke="#111" stroke-width="0.25">15,8</text>
<text transform="translate(639.76,738.00)" font-family="Liberation Serif, Times New Roman, serif" font-size="17.0" text-anchor="middle" fill="#222" textLength="17.80" lengthAdjust="spacingAndGlyphs" >0,0</text>
<text transform="translate(639.76,757.20)" font-family="Liberation Serif, Times New Roman, serif" font-size="17.0" text-anchor="middle" fill="#222" textLength="17.80" lengthAdjust="spacingAndGlyphs" >0,0</text>
<text transform="translate(683.48,551.20)" font-family="Liberation Serif, Times New Roman, serif" font-size="14.8" text-anchor="end" fill="#111" textLength="14.50" lengthAdjust="spacingAndGlyphs" stroke="#111" stroke-width="0.25">0,0</text>
<text transform="translate(683.88,571.70)" font-family="Liberation Serif, Times New Roman, serif" font-size="16.3" text-anchor="end" fill="#111" textLength="25.00" lengthAdjust="spacingAndGlyphs" stroke="#111" stroke-width="0.22">24,8</text>
<text transform="translate(683.88,592.30)" font-family="Liberation Serif, Times New Roman, serif" font-size="16.3" text-anchor="end" fill="#111" textLength="18.20" lengthAdjust="spacingAndGlyphs" stroke="#111" stroke-width="0.22">8,5</text>
<text transform="translate(683.88,613.00)" font-family="Liberation Sans, Arial, sans-serif" font-size="14.9" text-anchor="end" fill="#111" textLength="24.70" lengthAdjust="spacingAndGlyphs" stroke="#111" stroke-width="0.25">16,7</text>
<text transform="translate(670.64,738.00)" font-family="Liberation Serif, Times New Roman, serif" font-size="17.0" text-anchor="middle" fill="#222" textLength="17.80" lengthAdjust="spacingAndGlyphs" >0,0</text>
<text transform="translate(670.64,757.20)" font-family="Liberation Serif, Times New Roman, serif" font-size="17.0" text-anchor="middle" fill="#222" textLength="17.80" lengthAdjust="spacingAndGlyphs" >0,0</text>
<text transform="translate(714.36,551.20)" font-family="Liberation Serif, Times New Roman, serif" font-size="14.8" text-anchor="end" fill="#111" textLength="14.50" lengthAdjust="spacingAndGlyphs" stroke="#111" stroke-width="0.25">0,0</text>
<text transform="translate(714.76,571.70)" font-family="Liberation Serif, Times New Roman, serif" font-size="16.3" text-anchor="end" fill="#111" textLength="25.00" lengthAdjust="spacingAndGlyphs" stroke="#111" stroke-width="0.22">26,0</text>
<text transform="translate(714.76,592.30)" font-family="Liberation Serif, Times New Roman, serif" font-size="16.3" text-anchor="end" fill="#111" textLength="18.20" lengthAdjust="spacingAndGlyphs" stroke="#111" stroke-width="0.22">9,0</text>
<text transform="translate(714.76,613.00)" font-family="Liberation Sans, Arial, sans-serif" font-size="14.9" text-anchor="end" fill="#111" textLength="24.70" lengthAdjust="spacingAndGlyphs" stroke="#111" stroke-width="0.25">17,5</text>
<text transform="translate(701.52,738.00)" font-family="Liberation Serif, Times New Roman, serif" font-size="17.0" text-anchor="middle" fill="#222" textLength="17.80" lengthAdjust="spacingAndGlyphs" >0,0</text>
<text transform="translate(701.52,757.20)" font-family="Liberation Serif, Times New Roman, serif" font-size="17.0" text-anchor="middle" fill="#222" textLength="17.80" lengthAdjust="spacingAndGlyphs" >0,0</text>
<text transform="translate(745.24,551.20)" font-family="Liberation Serif, Times New Roman, serif" font-size="14.8" text-anchor="end" fill="#111" textLength="14.50" lengthAdjust="spacingAndGlyphs" stroke="#111" stroke-width="0.25">0,0</text>
<text transform="translate(745.64,571.70)" font-family="Liberation Serif, Times New Roman, serif" font-size="16.3" text-anchor="end" fill="#111" textLength="25.00" lengthAdjust="spacingAndGlyphs" stroke="#111" stroke-width="0.22">26,8</text>
<text transform="translate(745.64,592.30)" font-family="Liberation Serif, Times New Roman, serif" font-size="16.3" text-anchor="end" fill="#111" textLength="18.20" lengthAdjust="spacingAndGlyphs" stroke="#111" stroke-width="0.22">8,2</text>
<text transform="translate(745.64,613.00)" font-family="Liberation Sans, Arial, sans-serif" font-size="14.9" text-anchor="end" fill="#111" textLength="24.70" lengthAdjust="spacingAndGlyphs" stroke="#111" stroke-width="0.25">17,5</text>
<text transform="translate(732.40,738.00)" font-family="Liberation Serif, Times New Roman, serif" font-size="17.0" text-anchor="middle" fill="#222" textLength="17.80" lengthAdjust="spacingAndGlyphs" >0,0</text>
<text transform="translate(732.40,757.20)" font-family="Liberation Serif, Times New Roman, serif" font-size="17.0" text-anchor="middle" fill="#222" textLength="17.80" lengthAdjust="spacingAndGlyphs" >0,0</text>
<text transform="translate(776.12,551.20)" font-family="Liberation Serif, Times New Roman, serif" font-size="14.8" text-anchor="end" fill="#111" textLength="14.50" lengthAdjust="spacingAndGlyphs" stroke="#111" stroke-width="0.25">0,0</text>
<text transform="translate(776.52,571.70)" font-family="Liberation Serif, Times New Roman, serif" font-size="16.3" text-anchor="end" fill="#111" textLength="25.00" lengthAdjust="spacingAndGlyphs" stroke="#111" stroke-width="0.22">25,7</text>
<text transform="translate(776.52,592.30)" font-family="Liberation Serif, Times New Roman, serif" font-size="16.3" text-anchor="end" fill="#111" textLength="25.00" lengthAdjust="spacingAndGlyphs" stroke="#111" stroke-width="0.22">10,1</text>
<text transform="translate(776.52,613.00)" font-family="Liberation Sans, Arial, sans-serif" font-size="14.9" text-anchor="end" fill="#111" textLength="24.70" lengthAdjust="spacingAndGlyphs" stroke="#111" stroke-width="0.25">17,9</text>
<text transform="translate(763.28,738.00)" font-family="Liberation Serif, Times New Roman, serif" font-size="17.0" text-anchor="middle" fill="#222" textLength="17.80" lengthAdjust="spacingAndGlyphs" >0,0</text>
<text transform="translate(763.28,757.20)" font-family="Liberation Serif, Times New Roman, serif" font-size="17.0" text-anchor="middle" fill="#222" textLength="17.80" lengthAdjust="spacingAndGlyphs" >0,0</text>
<text transform="translate(807.00,551.20)" font-family="Liberation Serif, Times New Roman, serif" font-size="14.8" text-anchor="end" fill="#111" textLength="20.40" lengthAdjust="spacingAndGlyphs" stroke="#111" stroke-width="0.25">21,0</text>
<text transform="translate(807.40,571.70)" font-family="Liberation Serif, Times New Roman, serif" font-size="16.3" text-anchor="end" fill="#111" textLength="25.00" lengthAdjust="spacingAndGlyphs" stroke="#111" stroke-width="0.22">18,5</text>
<text transform="translate(807.40,592.30)" font-family="Liberation Serif, Times New Roman, serif" font-size="16.3" text-anchor="end" fill="#111" textLength="25.00" lengthAdjust="spacingAndGlyphs" stroke="#111" stroke-width="0.22">14,2</text>
<text transform="translate(807.40,613.00)" font-family="Liberation Sans, Arial, sans-serif" font-size="14.9" text-anchor="end" fill="#111" textLength="24.70" lengthAdjust="spacingAndGlyphs" stroke="#111" stroke-width="0.25">16,4</text>
<text transform="translate(794.16,738.00)" font-family="Liberation Serif, Times New Roman, serif" font-size="17.0" text-anchor="middle" fill="#222" textLength="17.80" lengthAdjust="spacingAndGlyphs" >0,0</text>
<text transform="translate(794.16,757.20)" font-family="Liberation Serif, Times New Roman, serif" font-size="17.0" text-anchor="middle" fill="#222" textLength="17.80" lengthAdjust="spacingAndGlyphs" >0,0</text>
<text transform="translate(837.88,551.20)" font-family="Liberation Serif, Times New Roman, serif" font-size="14.8" text-anchor="end" fill="#111" textLength="14.50" lengthAdjust="spacingAndGlyphs" stroke="#111" stroke-width="0.25">1,4</text>
<text transform="translate(838.28,571.70)" font-family="Liberation Serif, Times New Roman, serif" font-size="16.3" text-anchor="end" fill="#111" textLength="25.00" lengthAdjust="spacingAndGlyphs" stroke="#111" stroke-width="0.22">18,2</text>
<text transform="translate(838.28,592.30)" font-family="Liberation Serif, Times New Roman, serif" font-size="16.3" text-anchor="end" fill="#111" textLength="25.00" lengthAdjust="spacingAndGlyphs" stroke="#111" stroke-width="0.22">14,4</text>
<text transform="translate(838.28,613.00)" font-family="Liberation Sans, Arial, sans-serif" font-size="14.9" text-anchor="end" fill="#111" textLength="24.70" lengthAdjust="spacingAndGlyphs" stroke="#111" stroke-width="0.25">16,3</text>
<text transform="translate(825.04,738.00)" font-family="Liberation Serif, Times New Roman, serif" font-size="17.0" text-anchor="middle" fill="#222" textLength="17.80" lengthAdjust="spacingAndGlyphs" >0,0</text>
<text transform="translate(825.04,757.20)" font-family="Liberation Serif, Times New Roman, serif" font-size="17.0" text-anchor="middle" fill="#222" textLength="17.80" lengthAdjust="spacingAndGlyphs" >0,0</text>
<text transform="translate(868.76,551.20)" font-family="Liberation Serif, Times New Roman, serif" font-size="14.8" text-anchor="end" fill="#111" textLength="14.50" lengthAdjust="spacingAndGlyphs" stroke="#111" stroke-width="0.25">0,0</text>
<text transform="translate(869.16,571.70)" font-family="Liberation Serif, Times New Roman, serif" font-size="16.3" text-anchor="end" fill="#111" textLength="25.00" lengthAdjust="spacingAndGlyphs" stroke="#111" stroke-width="0.22">21,4</text>
<text transform="translate(869.16,592.30)" font-family="Liberation Serif, Times New Roman, serif" font-size="16.3" text-anchor="end" fill="#111" textLength="25.00" lengthAdjust="spacingAndGlyphs" stroke="#111" stroke-width="0.22">10,5</text>
<text transform="translate(869.16,613.00)" font-family="Liberation Sans, Arial, sans-serif" font-size="14.9" text-anchor="end" fill="#111" textLength="24.70" lengthAdjust="spacingAndGlyphs" stroke="#111" stroke-width="0.25">16,0</text>
<text transform="translate(855.92,738.00)" font-family="Liberation Serif, Times New Roman, serif" font-size="17.0" text-anchor="middle" fill="#222" textLength="17.80" lengthAdjust="spacingAndGlyphs" >0,0</text>
<text transform="translate(855.92,757.20)" font-family="Liberation Serif, Times New Roman, serif" font-size="17.0" text-anchor="middle" fill="#222" textLength="17.80" lengthAdjust="spacingAndGlyphs" >0,0</text>
<text transform="translate(899.64,551.20)" font-family="Liberation Serif, Times New Roman, serif" font-size="14.8" text-anchor="end" fill="#111" textLength="14.50" lengthAdjust="spacingAndGlyphs" stroke="#111" stroke-width="0.25">0,0</text>
<text transform="translate(900.04,571.70)" font-family="Liberation Serif, Times New Roman, serif" font-size="16.3" text-anchor="end" fill="#111" textLength="25.00" lengthAdjust="spacingAndGlyphs" stroke="#111" stroke-width="0.22">23,1</text>
<text transform="translate(900.04,592.30)" font-family="Liberation Serif, Times New Roman, serif" font-size="16.3" text-anchor="end" fill="#111" textLength="18.20" lengthAdjust="spacingAndGlyphs" stroke="#111" stroke-width="0.22">6,5</text>
<text transform="translate(900.04,613.00)" font-family="Liberation Sans, Arial, sans-serif" font-size="14.9" text-anchor="end" fill="#111" textLength="24.70" lengthAdjust="spacingAndGlyphs" stroke="#111" stroke-width="0.25">14,8</text>
<text transform="translate(886.80,738.00)" font-family="Liberation Serif, Times New Roman, serif" font-size="17.0" text-anchor="middle" fill="#222" textLength="17.80" lengthAdjust="spacingAndGlyphs" >0,0</text>
<text transform="translate(886.80,757.20)" font-family="Liberation Serif, Times New Roman, serif" font-size="17.0" text-anchor="middle" fill="#222" textLength="17.80" lengthAdjust="spacingAndGlyphs" >0,0</text>
<text transform="translate(930.52,551.20)" font-family="Liberation Serif, Times New Roman, serif" font-size="14.8" text-anchor="end" fill="#111" textLength="14.50" lengthAdjust="spacingAndGlyphs" stroke="#111" stroke-width="0.25">0,0</text>
<text transform="translate(930.92,571.70)" font-family="Liberation Serif, Times New Roman, serif" font-size="16.3" text-anchor="end" fill="#111" textLength="25.00" lengthAdjust="spacingAndGlyphs" stroke="#111" stroke-width="0.22">23,8</text>
<text transform="translate(930.92,592.30)" font-family="Liberation Serif, Times New Roman, serif" font-size="16.3" text-anchor="end" fill="#111" textLength="18.20" lengthAdjust="spacingAndGlyphs" stroke="#111" stroke-width="0.22">9,4</text>
<text transform="translate(930.92,613.00)" font-family="Liberation Sans, Arial, sans-serif" font-size="14.9" text-anchor="end" fill="#111" textLength="24.70" lengthAdjust="spacingAndGlyphs" stroke="#111" stroke-width="0.25">16,6</text>
<text transform="translate(917.68,738.00)" font-family="Liberation Serif, Times New Roman, serif" font-size="17.0" text-anchor="middle" fill="#222" textLength="17.80" lengthAdjust="spacingAndGlyphs" >0,0</text>
<text transform="translate(917.68,757.20)" font-family="Liberation Serif, Times New Roman, serif" font-size="17.0" text-anchor="middle" fill="#222" textLength="17.80" lengthAdjust="spacingAndGlyphs" >0,0</text>
<text transform="translate(961.40,551.20)" font-family="Liberation Serif, Times New Roman, serif" font-size="14.8" text-anchor="end" fill="#111" textLength="14.50" lengthAdjust="spacingAndGlyphs" stroke="#111" stroke-width="0.25">0,0</text>
<text transform="translate(961.80,571.70)" font-family="Liberation Serif, Times New Roman, serif" font-size="16.3" text-anchor="end" fill="#111" textLength="25.00" lengthAdjust="spacingAndGlyphs" stroke="#111" stroke-width="0.22">20,1</text>
<text transform="translate(961.80,592.30)" font-family="Liberation Serif, Times New Roman, serif" font-size="16.3" text-anchor="end" fill="#111" textLength="25.00" lengthAdjust="spacingAndGlyphs" stroke="#111" stroke-width="0.22">10,9</text>
<text transform="translate(961.80,613.00)" font-family="Liberation Sans, Arial, sans-serif" font-size="14.9" text-anchor="end" fill="#111" textLength="24.70" lengthAdjust="spacingAndGlyphs" stroke="#111" stroke-width="0.25">15,5</text>
<text transform="translate(948.56,738.00)" font-family="Liberation Serif, Times New Roman, serif" font-size="17.0" text-anchor="middle" fill="#222" textLength="17.80" lengthAdjust="spacingAndGlyphs" >0,0</text>
<text transform="translate(948.56,757.20)" font-family="Liberation Serif, Times New Roman, serif" font-size="17.0" text-anchor="middle" fill="#222" textLength="17.80" lengthAdjust="spacingAndGlyphs" >0,0</text>
<text transform="translate(992.28,551.20)" font-family="Liberation Serif, Times New Roman, serif" font-size="14.8" text-anchor="end" fill="#111" textLength="14.50" lengthAdjust="spacingAndGlyphs" stroke="#111" stroke-width="0.25">0,0</text>
<text transform="translate(992.68,571.70)" font-family="Liberation Serif, Times New Roman, serif" font-size="16.3" text-anchor="end" fill="#111" textLength="25.00" lengthAdjust="spacingAndGlyphs" stroke="#111" stroke-width="0.22">24,6</text>
<text transform="translate(992.68,592.30)" font-family="Liberation Serif, Times New Roman, serif" font-size="16.3" text-anchor="end" fill="#111" textLength="25.00" lengthAdjust="spacingAndGlyphs" stroke="#111" stroke-width="0.22">12,5</text>
<text transform="translate(992.68,613.00)" font-family="Liberation Sans, Arial, sans-serif" font-size="14.9" text-anchor="end" fill="#111" textLength="24.70" lengthAdjust="spacingAndGlyphs" stroke="#111" stroke-width="0.25">18,6</text>
<text transform="translate(979.44,738.00)" font-family="Liberation Serif, Times New Roman, serif" font-size="17.0" text-anchor="middle" fill="#222" textLength="17.80" lengthAdjust="spacingAndGlyphs" >0,0</text>
<text transform="translate(979.44,757.20)" font-family="Liberation Serif, Times New Roman, serif" font-size="17.0" text-anchor="middle" fill="#222" textLength="17.80" lengthAdjust="spacingAndGlyphs" >0,0</text>
<text transform="translate(32.60,678.80) rotate(-90)" font-family="Liberation Sans, Arial, sans-serif" font-size="12" text-anchor="middle" fill="#111" font-weight="bold" textLength="44.60" lengthAdjust="spacingAndGlyphs" >Wetter</text>
<text transform="translate(32.40,740.80) rotate(-90)" font-family="Liberation Sans, Arial, sans-serif" font-size="11.3" text-anchor="middle" fill="#111" font-weight="bold" textLength="38.30" lengthAdjust="spacingAndGlyphs" >Schnee</text>
<text transform="translate(1.70,777.90)" font-family="Liberation Sans, Arial, sans-serif" font-size="12.1" text-anchor="start" fill="#366092" textLength="112.90" lengthAdjust="spacingAndGlyphs" >Niederschlagsdaten</text>
<text transform="translate(119.10,777.90)" font-family="Liberation Sans, Arial, sans-serif" font-size="12.1" text-anchor="start" fill="#366092" textLength="73.20" lengthAdjust="spacingAndGlyphs" >DWD-Station</text>
<text transform="translate(197.40,777.90)" font-family="Liberation Sans, Arial, sans-serif" font-size="12.1" text-anchor="start" fill="#366092" textLength="132.30" lengthAdjust="spacingAndGlyphs" >Glashütten-Temperatur</text>
<text transform="translate(332.60,777.90)" font-family="Liberation Sans, Arial, sans-serif" font-size="12.1" text-anchor="start" fill="#366092" textLength="4.50" lengthAdjust="spacingAndGlyphs" >-</text>
<text transform="translate(344.80,777.90)" font-family="Liberation Sans, Arial, sans-serif" font-size="12.1" text-anchor="start" fill="#366092" textLength="90.00" lengthAdjust="spacingAndGlyphs" >DWD gerechnet</text>
<text transform="translate(456.80,777.90)" font-family="Liberation Sans, Arial, sans-serif" font-size="12.1" text-anchor="start" fill="#111" textLength="88.90" lengthAdjust="spacingAndGlyphs" >Datenerfassung:</text>
<text transform="translate(551.20,777.90)" font-family="Liberation Sans, Arial, sans-serif" font-size="12.1" text-anchor="start" fill="#111" textLength="52.40" lengthAdjust="spacingAndGlyphs" >Standort -</text>
<text transform="translate(610.30,777.90)" font-family="Liberation Sans, Arial, sans-serif" font-size="12.1" text-anchor="start" fill="#111" textLength="30.90" lengthAdjust="spacingAndGlyphs" >95496</text>
<text transform="translate(646.50,777.90)" font-family="Liberation Sans, Arial, sans-serif" font-size="12.1" text-anchor="start" fill="#111" textLength="63.50" lengthAdjust="spacingAndGlyphs" >Glashütten,</text>
<text transform="translate(713.00,777.90)" font-family="Liberation Sans, Arial, sans-serif" font-size="12.1" text-anchor="start" fill="#111" textLength="88.40" lengthAdjust="spacingAndGlyphs" >Altenhimmelstr.</text>
<text transform="translate(805.70,777.90)" font-family="Liberation Sans, Arial, sans-serif" font-size="12.1" text-anchor="start" fill="#111" textLength="18.90" lengthAdjust="spacingAndGlyphs" >37 -</text>
<text transform="translate(828.30,777.90)" font-family="Liberation Sans, Arial, sans-serif" font-size="12.1" text-anchor="start" fill="#111" textLength="70.30" lengthAdjust="spacingAndGlyphs" >Koordinaten:</text>
<text transform="translate(903.70,777.90)" font-family="Liberation Sans, Arial, sans-serif" font-size="12.1" text-anchor="start" fill="#111" textLength="84.20" lengthAdjust="spacingAndGlyphs" >49° 52' 48' Nord,</text>
<text transform="translate(997.90,777.90)" font-family="Liberation Sans, Arial, sans-serif" font-size="12.1" text-anchor="start" fill="#111" textLength="54.60" lengthAdjust="spacingAndGlyphs" >11° 27' 04''</text>
<text transform="translate(1055.60,777.90)" font-family="Liberation Sans, Arial, sans-serif" font-size="12.1" text-anchor="start" fill="#111" textLength="17.70" lengthAdjust="spacingAndGlyphs" >Ost</text>
<text transform="translate(1081.30,777.90)" font-family="Liberation Sans, Arial, sans-serif" font-size="12.1" text-anchor="start" fill="#111" textLength="65.50" lengthAdjust="spacingAndGlyphs" >440 m ü. NN</text>
<text transform="translate(1079.50,17.30)" font-family="Liberation Sans, Arial, sans-serif" font-size="15.6" text-anchor="middle" fill="#111" font-weight="bold" textLength="88.50" lengthAdjust="spacingAndGlyphs" >August 1984</text>
<text transform="translate(1006.20,37.30)" font-family="Liberation Sans, Arial, sans-serif" font-size="11.2" text-anchor="middle" fill="#222" textLength="14.30" lengthAdjust="spacingAndGlyphs" stroke="#222" stroke-width="0.2">m/s</text>
<text transform="translate(1006.10,58.00)" font-family="Liberation Sans, Arial, sans-serif" font-size="11.4" text-anchor="middle" fill="#222" textLength="19.30" lengthAdjust="spacingAndGlyphs" stroke="#222" stroke-width="0.2">km/h</text>
<text transform="translate(1073.00,37.40)" font-family="Liberation Sans, Arial, sans-serif" font-size="12.0" text-anchor="middle" fill="#222" textLength="40.10" lengthAdjust="spacingAndGlyphs" stroke="#222" stroke-width="0.2">Maximale</text>
<text transform="translate(1072.80,54.20)" font-family="Liberation Sans, Arial, sans-serif" font-size="12.2" text-anchor="middle" fill="#222" textLength="86.10" lengthAdjust="spacingAndGlyphs" stroke="#222" stroke-width="0.2">Windgeschwindigkeit</text>
<text transform="translate(1147.30,36.50)" font-family="Liberation Sans, Arial, sans-serif" font-size="12.7" text-anchor="middle" fill="#111" font-weight="bold" textLength="15.60" lengthAdjust="spacingAndGlyphs" >KD</text>
<text transform="translate(1147.30,56.90)" font-family="Liberation Sans, Arial, sans-serif" font-size="12.7" text-anchor="middle" fill="#111" font-weight="bold" textLength="15.60" lengthAdjust="spacingAndGlyphs" >KD</text>
<text transform="translate(1004.60,82.30)" font-family="Noto Sans CJK JP, DejaVu Sans, sans-serif" font-size="17.5" text-anchor="middle" fill="#111" textLength="10.00" lengthAdjust="spacingAndGlyphs" stroke="#111" stroke-width="0.5">←</text>
<text transform="translate(1015.30,79.00)" font-family="Liberation Sans, Arial, sans-serif" font-size="11.2" text-anchor="start" fill="#111" font-weight="bold" textLength="146.60" lengthAdjust="spacingAndGlyphs" >Vorherrschende Windrichtung</text>
<text transform="translate(1145.40,95.70)" font-family="Liberation Sans, Arial, sans-serif" font-size="10.6" text-anchor="middle" fill="#222" textLength="28.90" lengthAdjust="spacingAndGlyphs" >Werte</text>
<text transform="translate(1061.60,116.00)" font-family="Liberation Sans, Arial, sans-serif" font-size="13.0" text-anchor="middle" fill="#111" textLength="81.40" lengthAdjust="spacingAndGlyphs" >Schneefalltage</text>
<text transform="translate(1146.60,116.60)" font-family="Liberation Sans, Arial, sans-serif" font-size="13.1" text-anchor="middle" fill="#111" font-weight="bold" textLength="7.30" lengthAdjust="spacingAndGlyphs" >0</text>
<text transform="translate(1061.60,136.70)" font-family="Liberation Sans, Arial, sans-serif" font-size="13.0" text-anchor="middle" fill="#111" textLength="103.10" lengthAdjust="spacingAndGlyphs" >Schneedeckentage</text>
<text transform="translate(1146.60,137.30)" font-family="Liberation Sans, Arial, sans-serif" font-size="13.1" text-anchor="middle" fill="#111" font-weight="bold" textLength="7.30" lengthAdjust="spacingAndGlyphs" >0</text>
<text transform="translate(1061.60,158.00)" font-family="Liberation Serif, Times New Roman, serif" font-size="13.8" text-anchor="middle" fill="#111" textLength="49.50" lengthAdjust="spacingAndGlyphs" >Frosttage</text>
<text transform="translate(1146.60,158.00)" font-family="Liberation Sans, Arial, sans-serif" font-size="13.1" text-anchor="middle" fill="#111" font-weight="bold" textLength="7.30" lengthAdjust="spacingAndGlyphs" >0</text>
<text transform="translate(1061.60,178.30)" font-family="Liberation Sans, Arial, sans-serif" font-size="13.0" text-anchor="middle" fill="#111" textLength="39.20" lengthAdjust="spacingAndGlyphs" >Eistage</text>
<text transform="translate(1146.60,178.80)" font-family="Liberation Sans, Arial, sans-serif" font-size="13.1" text-anchor="middle" fill="#111" font-weight="bold" textLength="7.30" lengthAdjust="spacingAndGlyphs" >0</text>
<text transform="translate(1061.60,199.00)" font-family="Liberation Serif, Times New Roman, serif" font-size="13.8" text-anchor="middle" fill="#111" textLength="95.20" lengthAdjust="spacingAndGlyphs" >Niederschlagstage</text>
<text transform="translate(1146.60,199.40)" font-family="Liberation Sans, Arial, sans-serif" font-size="13.1" text-anchor="middle" fill="#111" font-weight="bold" textLength="7.30" lengthAdjust="spacingAndGlyphs" >9</text>
<text transform="translate(1061.60,219.50)" font-family="Liberation Sans, Arial, sans-serif" font-size="13.0" text-anchor="middle" fill="#111" textLength="89.70" lengthAdjust="spacingAndGlyphs" >Stürmische Tage</text>
<text transform="translate(1147.20,220.00)" font-family="Liberation Sans, Arial, sans-serif" font-size="13.1" text-anchor="middle" fill="#111" font-weight="bold" textLength="16.90" lengthAdjust="spacingAndGlyphs" >KD</text>
<text transform="translate(1061.60,240.00)" font-family="Liberation Sans, Arial, sans-serif" font-size="13.0" text-anchor="middle" fill="#111" textLength="74.20" lengthAdjust="spacingAndGlyphs" >Windige Tage</text>
<text transform="translate(1147.20,240.90)" font-family="Liberation Sans, Arial, sans-serif" font-size="13.1" text-anchor="middle" fill="#111" font-weight="bold" textLength="16.90" lengthAdjust="spacingAndGlyphs" >KD</text>
<text transform="translate(1061.60,260.70)" font-family="Liberation Sans, Arial, sans-serif" font-size="13.0" text-anchor="middle" fill="#111" textLength="70.20" lengthAdjust="spacingAndGlyphs" >Sommertage</text>
<text transform="translate(1146.60,261.50)" font-family="Liberation Sans, Arial, sans-serif" font-size="13.1" text-anchor="middle" fill="#111" font-weight="bold" textLength="7.30" lengthAdjust="spacingAndGlyphs" >5</text>
<text transform="translate(1061.60,281.40)" font-family="Liberation Sans, Arial, sans-serif" font-size="13.0" text-anchor="middle" fill="#111" textLength="61.20" lengthAdjust="spacingAndGlyphs" >Heiße Tage</text>
<text transform="translate(1146.60,282.20)" font-family="Liberation Sans, Arial, sans-serif" font-size="13.1" text-anchor="middle" fill="#111" font-weight="bold" textLength="7.30" lengthAdjust="spacingAndGlyphs" >0</text>
<text transform="translate(1061.60,302.10)" font-family="Liberation Sans, Arial, sans-serif" font-size="13.0" text-anchor="middle" fill="#111" textLength="50.90" lengthAdjust="spacingAndGlyphs" >Mittleres</text>
<text transform="translate(1061.60,321.90)" font-family="Liberation Sans, Arial, sans-serif" font-size="13.0" text-anchor="middle" fill="#111" textLength="85.40" lengthAdjust="spacingAndGlyphs" >Tagesmaximum</text>
<text transform="translate(1146.60,312.40)" font-family="Liberation Sans, Arial, sans-serif" font-size="13.1" text-anchor="middle" fill="#111" font-weight="bold" textLength="24.30" lengthAdjust="spacingAndGlyphs" >22,0</text>
<text transform="translate(1061.60,341.40)" font-family="Liberation Sans, Arial, sans-serif" font-size="13.0" text-anchor="middle" fill="#111" textLength="50.90" lengthAdjust="spacingAndGlyphs" >Mittleres</text>
<text transform="translate(1061.60,361.60)" font-family="Liberation Sans, Arial, sans-serif" font-size="13.0" text-anchor="middle" fill="#111" textLength="83.60" lengthAdjust="spacingAndGlyphs" >Tagesminimum</text>
<text transform="translate(1146.60,352.10)" font-family="Liberation Sans, Arial, sans-serif" font-size="13.1" text-anchor="middle" fill="#111" font-weight="bold" textLength="24.30" lengthAdjust="spacingAndGlyphs" >11,1</text>
<text transform="translate(1061.60,380.60)" font-family="Liberation Sans, Arial, sans-serif" font-size="13.7" text-anchor="middle" fill="#222" textLength="120.70" lengthAdjust="spacingAndGlyphs" stroke="#222" stroke-width="0.2">Wärmster Tag im Mittel</text>
<text transform="translate(1146.60,382.20)" font-family="Liberation Sans, Arial, sans-serif" font-size="13.1" text-anchor="middle" fill="#111" font-weight="bold" textLength="24.30" lengthAdjust="spacingAndGlyphs" >20,8</text>
<text transform="translate(1061.60,401.20)" font-family="Liberation Sans, Arial, sans-serif" font-size="13.7" text-anchor="middle" fill="#222" textLength="116.10" lengthAdjust="spacingAndGlyphs" stroke="#222" stroke-width="0.2">Kältester Tag im Mittel</text>
<text transform="translate(1146.60,402.40)" font-family="Liberation Sans, Arial, sans-serif" font-size="13.1" text-anchor="middle" fill="#111" font-weight="bold" textLength="24.30" lengthAdjust="spacingAndGlyphs" >14,6</text>
<text transform="translate(1061.60,423.10)" font-family="Liberation Sans, Arial, sans-serif" font-size="16.0" text-anchor="middle" fill="#222" textLength="103.10" lengthAdjust="spacingAndGlyphs" stroke="#222" stroke-width="0.2">Max-Niederschlag</text>
<text transform="translate(1146.60,423.60)" font-family="Liberation Sans, Arial, sans-serif" font-size="13.1" text-anchor="middle" fill="#111" font-weight="bold" textLength="24.30" lengthAdjust="spacingAndGlyphs" >21,0</text>
<text transform="translate(1061.60,445.50)" font-family="Liberation Sans, Arial, sans-serif" font-size="14.3" text-anchor="middle" fill="#222" textLength="67.30" lengthAdjust="spacingAndGlyphs" stroke="#222" stroke-width="0.2">Gewittertage</text>
<text transform="translate(1147.20,446.00)" font-family="Liberation Sans, Arial, sans-serif" font-size="13.1" text-anchor="middle" fill="#111" font-weight="bold" textLength="16.90" lengthAdjust="spacingAndGlyphs" >KD</text>
<text transform="translate(1060.90,468.10)" font-family="Liberation Sans, Arial, sans-serif" font-size="13.0" text-anchor="middle" fill="#111" textLength="118.50" lengthAdjust="spacingAndGlyphs" >Mitteltemperatur des</text>
<text transform="translate(1061.10,487.40)" font-family="Liberation Sans, Arial, sans-serif" font-size="13.0" text-anchor="middle" fill="#111" textLength="55.20" lengthAdjust="spacingAndGlyphs" >Monats °C</text>
<text transform="translate(1146.60,477.60)" font-family="Liberation Serif, Times New Roman, serif" font-size="14.8" text-anchor="middle" fill="#111" font-weight="bold" textLength="24.50" lengthAdjust="spacingAndGlyphs" >16,5</text>
<text transform="translate(1061.60,509.30)" font-family="Liberation Sans, Arial, sans-serif" font-size="13.0" text-anchor="middle" fill="#111" textLength="87.90" lengthAdjust="spacingAndGlyphs" >Bodenfrosttage</text>
<text transform="translate(1147.20,509.30)" font-family="Liberation Sans, Arial, sans-serif" font-size="13.1" text-anchor="middle" fill="#111" font-weight="bold" textLength="16.90" lengthAdjust="spacingAndGlyphs" >KD</text>
<text transform="translate(1079.80,530.50)" font-family="Liberation Sans, Arial, sans-serif" font-size="13.0" text-anchor="middle" fill="#111" textLength="167.80" lengthAdjust="spacingAndGlyphs" >Min-Temperatur i. 5 cm Höhe</text>
<text transform="translate(1061.60,550.30)" font-family="Liberation Sans, Arial, sans-serif" font-size="13.0" text-anchor="middle" fill="#111" textLength="115.90" lengthAdjust="spacingAndGlyphs" >Niederschlag - Monat</text>
<text transform="translate(1146.60,550.70)" font-family="Liberation Sans, Arial, sans-serif" font-size="13.1" text-anchor="middle" fill="#111" font-weight="bold" textLength="24.30" lengthAdjust="spacingAndGlyphs" >72,4</text>
<text transform="translate(1061.60,571.80)" font-family="Liberation Sans, Arial, sans-serif" font-size="13.0" text-anchor="middle" fill="#111" textLength="113.50" lengthAdjust="spacingAndGlyphs" >Höchste-Temperatur</text>
<text transform="translate(1146.60,571.70)" font-family="Liberation Sans, Arial, sans-serif" font-size="13.1" text-anchor="middle" fill="#111" font-weight="bold" textLength="24.30" lengthAdjust="spacingAndGlyphs" >28,3</text>
<text transform="translate(1061.60,592.40)" font-family="Liberation Sans, Arial, sans-serif" font-size="13.0" text-anchor="middle" fill="#111" textLength="126.80" lengthAdjust="spacingAndGlyphs" >Niedrigste-Temperatur</text>
<text transform="translate(1146.60,592.40)" font-family="Liberation Sans, Arial, sans-serif" font-size="13.1" text-anchor="middle" fill="#111" font-weight="bold" textLength="18.50" lengthAdjust="spacingAndGlyphs" >6,5</text>
<text transform="translate(1061.60,611.70)" font-family="Liberation Sans, Arial, sans-serif" font-size="13.2" text-anchor="middle" fill="#222" textLength="59.20" lengthAdjust="spacingAndGlyphs" stroke="#222" stroke-width="0.2">Tagesmittel</text>
<text transform="translate(1146.60,612.60)" font-family="Liberation Sans, Arial, sans-serif" font-size="13.1" text-anchor="middle" fill="#111" font-weight="bold" textLength="24.30" lengthAdjust="spacingAndGlyphs" >16,5</text>
<text transform="translate(1061.60,633.80)" font-family="Liberation Sans, Arial, sans-serif" font-size="16.6" text-anchor="middle" fill="#222" textLength="74.00" lengthAdjust="spacingAndGlyphs" stroke="#222" stroke-width="0.2">Kältesumme</text>
<text transform="translate(1146.60,633.80)" font-family="Liberation Sans, Arial, sans-serif" font-size="13.1" text-anchor="middle" fill="#111" font-weight="bold" textLength="18.50" lengthAdjust="spacingAndGlyphs" >0,0</text>
<text transform="translate(1061.60,654.00)" font-family="Liberation Sans, Arial, sans-serif" font-size="13.2" text-anchor="middle" fill="#222" textLength="123.90" lengthAdjust="spacingAndGlyphs" >Min-Bodentemperatur</text>
<text transform="translate(1147.20,654.50)" font-family="Liberation Sans, Arial, sans-serif" font-size="13.1" text-anchor="middle" fill="#111" font-weight="bold" textLength="16.90" lengthAdjust="spacingAndGlyphs" >KD</text>
<text transform="translate(1061.20,674.80)" font-family="Liberation Sans, Arial, sans-serif" font-size="13.2" text-anchor="middle" fill="#111" font-weight="bold" textLength="119.00" lengthAdjust="spacingAndGlyphs" >Mittel 1961-1990 in °C</text>
<text transform="translate(1146.60,674.90)" font-family="Liberation Serif, Times New Roman, serif" font-size="17.2" text-anchor="middle" fill="#111" textLength="24.50" lengthAdjust="spacingAndGlyphs" stroke="#111" stroke-width="0.22">15,7</text>
<text transform="translate(1060.50,694.30)" font-family="Liberation Serif, Times New Roman, serif" font-size="15" text-anchor="middle" fill="#f00" font-weight="bold" textLength="128.40" lengthAdjust="spacingAndGlyphs" >Abweichung v. Mittel in °C</text>
<text transform="translate(1146.40,694.10)" font-family="Liberation Serif, Times New Roman, serif" font-size="17.2" text-anchor="middle" fill="#f00" textLength="18.60" lengthAdjust="spacingAndGlyphs" stroke="#f00" stroke-width="0.35">0,8</text>
<text transform="translate(1146.80,716.10)" font-family="Liberation Serif, Times New Roman, serif" font-size="12" text-anchor="middle" fill="#111" font-weight="bold" textLength="21.10" lengthAdjust="spacingAndGlyphs" >Max</text>
<text transform="translate(1061.60,735.80)" font-family="Liberation Serif, Times New Roman, serif" font-size="14.3" text-anchor="middle" fill="#111" textLength="109.40" lengthAdjust="spacingAndGlyphs" >Schneedecke -   SH</text>
<text transform="translate(1146.60,736.70)" font-family="Liberation Sans, Arial, sans-serif" font-size="13.1" text-anchor="middle" fill="#111" font-weight="bold" textLength="7.30" lengthAdjust="spacingAndGlyphs" >0</text>
<text transform="translate(1062.00,756.40)" font-family="Liberation Serif, Times New Roman, serif" font-size="14.3" text-anchor="middle" fill="#111" textLength="122.10" lengthAdjust="spacingAndGlyphs" >Neuschneehöhe- NSH</text>
<text transform="translate(1146.60,757.30)" font-family="Liberation Sans, Arial, sans-serif" font-size="13.1" text-anchor="middle" fill="#111" font-weight="bold" textLength="7.30" lengthAdjust="spacingAndGlyphs" >0</text>
</svg>
</body></html>
